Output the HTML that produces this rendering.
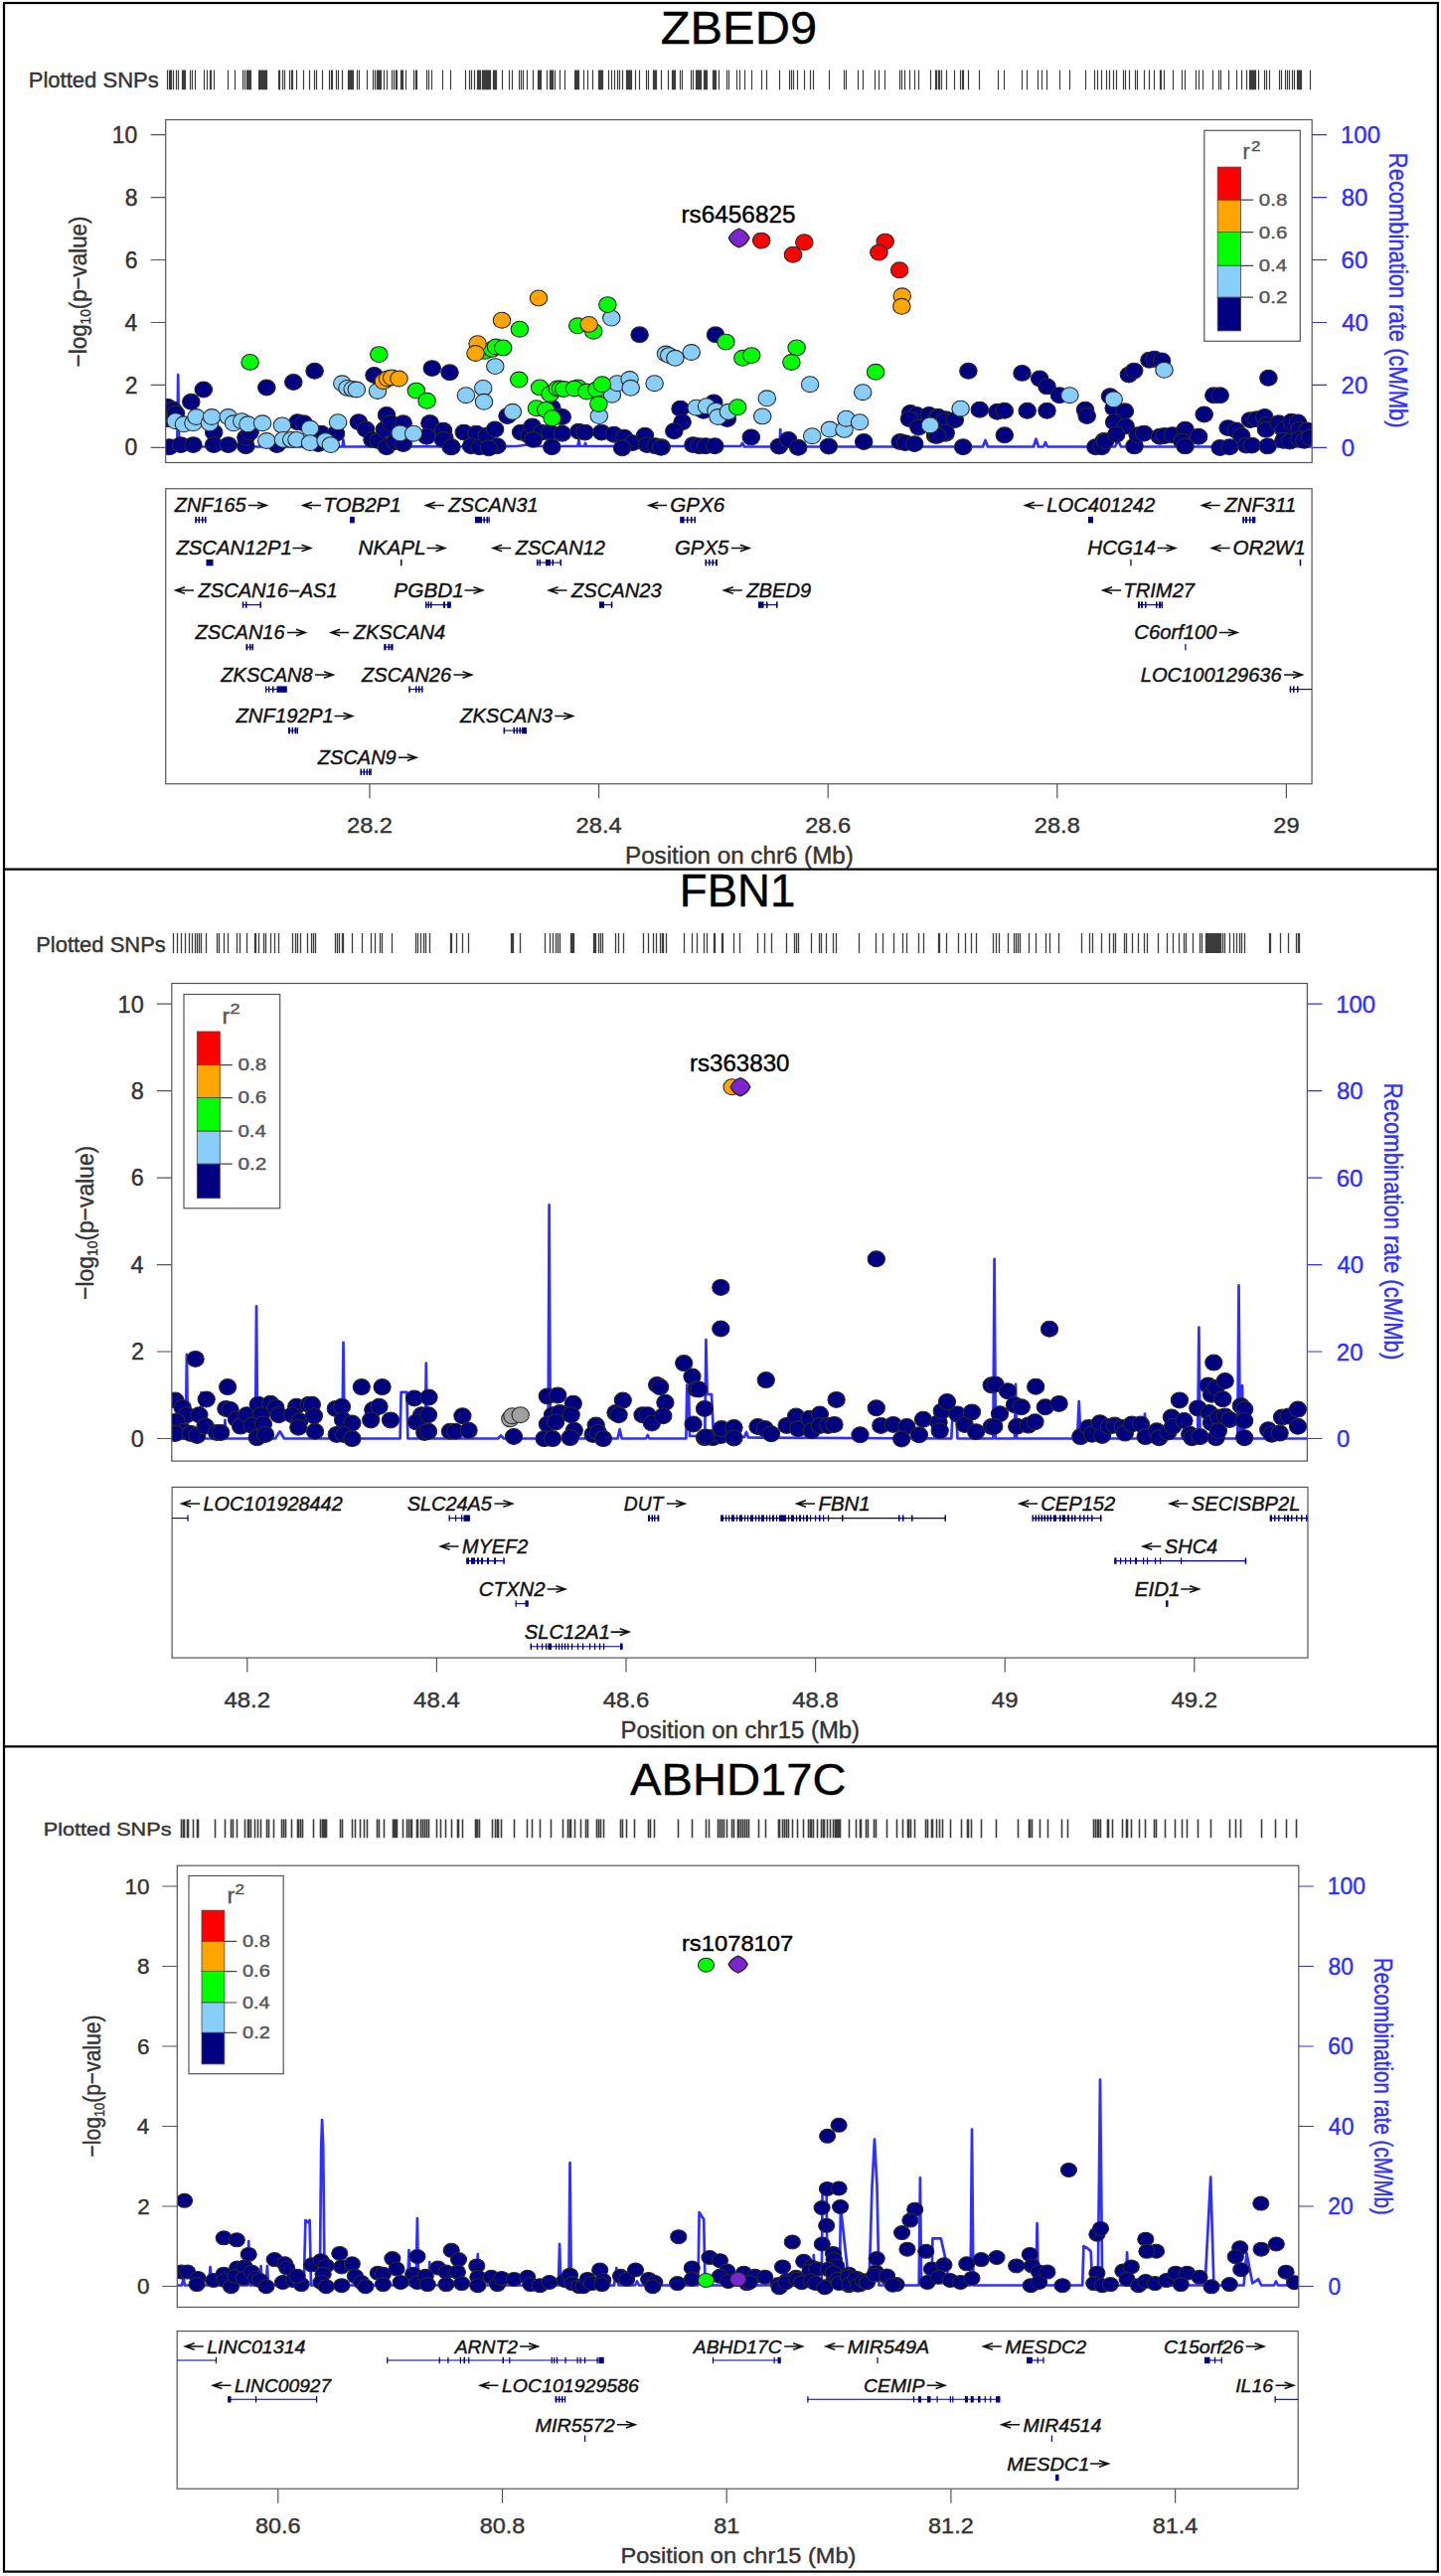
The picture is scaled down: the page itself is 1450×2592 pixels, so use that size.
<!DOCTYPE html>
<html><head><meta charset="utf-8"><title>LocusZoom plots</title>
<style>html,body{margin:0;padding:0;background:#fff;} body{width:1450px;height:2592px;overflow:hidden;} svg{display:block;}</style>
</head><body>
<svg width="1450" height="2592" viewBox="0 0 1450 2592" font-family="'Liberation Sans', Arial, sans-serif"><text x="664.70" y="43.75" font-size="46.90" textLength="157.41" lengthAdjust="spacingAndGlyphs" fill="#000" stroke="#000" stroke-width="0.4" style="" >ZBED9</text>
<text x="28.69" y="88.00" font-size="21.80" textLength="131.10" lengthAdjust="spacingAndGlyphs" fill="#333333" stroke="#333333" stroke-width="0.4" style="" >Plotted SNPs</text>
<path d="M168.5 70.6V90.3M170.5 70.6V90.3M171.5 70.6V90.3M172.5 70.6V90.3M174.5 70.6V90.3M177.5 70.6V90.3M179.5 70.6V90.3M183.5 70.6V90.3M184.5 70.6V90.3M186.5 70.6V90.3M191.5 70.6V90.3M193.5 70.6V90.3M196.5 70.6V90.3M205.5 70.6V90.3M208.5 70.6V90.3M211.5 70.6V90.3M212.5 70.6V90.3M215.5 70.6V90.3M229.5 70.6V90.3M236.5 70.6V90.3M244.5 70.6V90.3M246.5 70.6V90.3M248.5 70.6V90.3M250.5 70.6V90.3M251.5 70.6V90.3M252.5 70.6V90.3M260.5 70.6V90.3M262.5 70.6V90.3M263.5 70.6V90.3M264.5 70.6V90.3M266.5 70.6V90.3M268.5 70.6V90.3M280.5 70.6V90.3M281.5 70.6V90.3M284.5 70.6V90.3M286.5 70.6V90.3M291.5 70.6V90.3M293.5 70.6V90.3M294.5 70.6V90.3M298.5 70.6V90.3M305.5 70.6V90.3M311.5 70.6V90.3M316.5 70.6V90.3M318.5 70.6V90.3M324.5 70.6V90.3M331.5 70.6V90.3M333.5 70.6V90.3M334.5 70.6V90.3M338.5 70.6V90.3M340.5 70.6V90.3M344.5 70.6V90.3M350.5 70.6V90.3M351.5 70.6V90.3M352.5 70.6V90.3M354.5 70.6V90.3M355.5 70.6V90.3M359.5 70.6V90.3M361.5 70.6V90.3M369.5 70.6V90.3M375.5 70.6V90.3M377.5 70.6V90.3M379.5 70.6V90.3M380.5 70.6V90.3M381.5 70.6V90.3M382.5 70.6V90.3M383.5 70.6V90.3M386.5 70.6V90.3M389.5 70.6V90.3M394.5 70.6V90.3M396.5 70.6V90.3M398.5 70.6V90.3M399.5 70.6V90.3M403.5 70.6V90.3M404.5 70.6V90.3M405.5 70.6V90.3M408.5 70.6V90.3M416.5 70.6V90.3M418.5 70.6V90.3M419.5 70.6V90.3M429.5 70.6V90.3M431.5 70.6V90.3M434.5 70.6V90.3M445.5 70.6V90.3M453.5 70.6V90.3M468.5 70.6V90.3M472.5 70.6V90.3M474.5 70.6V90.3M477.5 70.6V90.3M480.5 70.6V90.3M481.5 70.6V90.3M483.5 70.6V90.3M485.5 70.6V90.3M486.5 70.6V90.3M488.5 70.6V90.3M489.5 70.6V90.3M491.5 70.6V90.3M493.5 70.6V90.3M496.5 70.6V90.3M497.5 70.6V90.3M499.5 70.6V90.3M505.5 70.6V90.3M512.5 70.6V90.3M515.5 70.6V90.3M522.5 70.6V90.3M524.5 70.6V90.3M526.5 70.6V90.3M530.5 70.6V90.3M536.5 70.6V90.3M541.5 70.6V90.3M542.5 70.6V90.3M544.5 70.6V90.3M550.5 70.6V90.3M553.5 70.6V90.3M555.5 70.6V90.3M556.5 70.6V90.3M558.5 70.6V90.3M563.5 70.6V90.3M568.5 70.6V90.3M578.5 70.6V90.3M580.5 70.6V90.3M581.5 70.6V90.3M582.5 70.6V90.3M587.5 70.6V90.3M591.5 70.6V90.3M596.5 70.6V90.3M602.5 70.6V90.3M603.5 70.6V90.3M605.5 70.6V90.3M606.5 70.6V90.3M612.5 70.6V90.3M615.5 70.6V90.3M618.5 70.6V90.3M621.5 70.6V90.3M623.5 70.6V90.3M626.5 70.6V90.3M630.5 70.6V90.3M631.5 70.6V90.3M633.5 70.6V90.3M635.5 70.6V90.3M639.5 70.6V90.3M643.5 70.6V90.3M650.5 70.6V90.3M652.5 70.6V90.3M657.5 70.6V90.3M658.5 70.6V90.3M660.5 70.6V90.3M665.5 70.6V90.3M672.5 70.6V90.3M676.5 70.6V90.3M678.5 70.6V90.3M679.5 70.6V90.3M684.5 70.6V90.3M686.5 70.6V90.3M695.5 70.6V90.3M697.5 70.6V90.3M700.5 70.6V90.3M702.5 70.6V90.3M704.5 70.6V90.3M705.5 70.6V90.3M708.5 70.6V90.3M710.5 70.6V90.3M711.5 70.6V90.3M717.5 70.6V90.3M718.5 70.6V90.3M720.5 70.6V90.3M723.5 70.6V90.3M731.5 70.6V90.3M733.5 70.6V90.3M741.5 70.6V90.3M744.5 70.6V90.3M749.5 70.6V90.3M756.5 70.6V90.3M766.5 70.6V90.3M771.5 70.6V90.3M784.5 70.6V90.3M794.5 70.6V90.3M796.5 70.6V90.3M798.5 70.6V90.3M802.5 70.6V90.3M809.5 70.6V90.3M815.5 70.6V90.3M818.5 70.6V90.3M834.5 70.6V90.3M849.5 70.6V90.3M851.5 70.6V90.3M863.5 70.6V90.3M868.5 70.6V90.3M880.5 70.6V90.3M884.5 70.6V90.3M890.5 70.6V90.3M905.5 70.6V90.3M907.5 70.6V90.3M910.5 70.6V90.3M915.5 70.6V90.3M920.5 70.6V90.3M924.5 70.6V90.3M936.5 70.6V90.3M941.5 70.6V90.3M942.5 70.6V90.3M944.5 70.6V90.3M945.5 70.6V90.3M947.5 70.6V90.3M952.5 70.6V90.3M960.5 70.6V90.3M966.5 70.6V90.3M968.5 70.6V90.3M969.5 70.6V90.3M974.5 70.6V90.3M985.5 70.6V90.3M1004.5 70.6V90.3M1010.5 70.6V90.3M1028.5 70.6V90.3M1033.5 70.6V90.3M1044.5 70.6V90.3M1048.5 70.6V90.3M1053.5 70.6V90.3M1066.5 70.6V90.3M1076.5 70.6V90.3M1092.5 70.6V90.3M1101.5 70.6V90.3M1104.5 70.6V90.3M1108.5 70.6V90.3M1113.5 70.6V90.3M1116.5 70.6V90.3M1120.5 70.6V90.3M1123.5 70.6V90.3M1130.5 70.6V90.3M1132.5 70.6V90.3M1136.5 70.6V90.3M1142.5 70.6V90.3M1144.5 70.6V90.3M1151.5 70.6V90.3M1156.5 70.6V90.3M1161.5 70.6V90.3M1167.5 70.6V90.3M1168.5 70.6V90.3M1171.5 70.6V90.3M1180.5 70.6V90.3M1189.5 70.6V90.3M1192.5 70.6V90.3M1203.5 70.6V90.3M1206.5 70.6V90.3M1210.5 70.6V90.3M1220.5 70.6V90.3M1226.5 70.6V90.3M1228.5 70.6V90.3M1236.5 70.6V90.3M1244.5 70.6V90.3M1249.5 70.6V90.3M1254.5 70.6V90.3M1257.5 70.6V90.3M1258.5 70.6V90.3M1260.5 70.6V90.3M1262.5 70.6V90.3M1263.5 70.6V90.3M1266.5 70.6V90.3M1272.5 70.6V90.3M1274.5 70.6V90.3M1277.5 70.6V90.3M1287.5 70.6V90.3M1289.5 70.6V90.3M1293.5 70.6V90.3M1295.5 70.6V90.3M1297.5 70.6V90.3M1300.5 70.6V90.3M1302.5 70.6V90.3M1305.5 70.6V90.3M1306.5 70.6V90.3M1308.5 70.6V90.3M1309.5 70.6V90.3M1318.5 70.6V90.3M185.5 70.6V90.3M249.5 70.6V90.3M261.5 70.6V90.3M265.5 70.6V90.3M267.5 70.6V90.3M482.5 70.6V90.3M487.5 70.6V90.3M490.5 70.6V90.3M492.5 70.6V90.3M498.5 70.6V90.3M543.5 70.6V90.3M554.5 70.6V90.3M579.5 70.6V90.3M604.5 70.6V90.3M632.5 70.6V90.3M634.5 70.6V90.3M659.5 70.6V90.3M677.5 70.6V90.3M701.5 70.6V90.3M703.5 70.6V90.3M709.5 70.6V90.3M719.5 70.6V90.3M1259.5 70.6V90.3M1261.5 70.6V90.3M1307.5 70.6V90.3M353.5 70.6V90.3" stroke="#3c3c3c" stroke-width="1.2" fill="none"/>
<clipPath id="c1"><rect x="166.7" y="120.5" width="1153.5" height="345.0"/></clipPath>
<g clip-path="url(#c1)">
<polyline points="160.0,448.5 178.3,448.8 179.2,377.1 180.2,449.5 344.6,449.5 345.4,442.5 346.4,449.5 520.0,449.0 530.0,447.5 540.0,449.0 581.5,449.0 582.5,442.5 583.5,449.0 588.0,449.0 589.0,446.0 590.0,449.0 745.0,449.0 747.0,446.0 749.0,449.5 784.6,449.5 785.2,432.0 785.8,449.5 788.0,449.5 989.0,449.5 991.5,443.0 994.0,449.5 1040.0,449.5 1042.5,441.7 1045.0,449.5 1050.0,449.5 1052.0,445.0 1054.0,449.5 1122.0,449.5 1125.0,443.0 1128.0,449.5 1330.0,449.5" fill="none" stroke="#2f2fff" stroke-width="2.7" stroke-linejoin="round"/>
<g stroke="#2a2a2a" stroke-width="1.1"><ellipse cx="168.3" cy="409.1" rx="8.75" ry="7.9" fill="#000080"/><ellipse cx="170.4" cy="413.3" rx="8.75" ry="7.9" fill="#000080"/><ellipse cx="172.5" cy="417.4" rx="8.75" ry="7.9" fill="#000080"/><ellipse cx="169.4" cy="421.6" rx="8.75" ry="7.9" fill="#000080"/><ellipse cx="174.0" cy="412.0" rx="8.75" ry="7.9" fill="#000080"/><ellipse cx="177.0" cy="416.0" rx="8.75" ry="7.9" fill="#000080"/><ellipse cx="215.2" cy="435.1" rx="8.75" ry="7.9" fill="#000080"/><ellipse cx="170.4" cy="449.7" rx="8.75" ry="7.9" fill="#000080"/><ellipse cx="181.9" cy="447.6" rx="8.75" ry="7.9" fill="#000080"/><ellipse cx="194.4" cy="447.6" rx="8.75" ry="7.9" fill="#000080"/><ellipse cx="215.2" cy="447.6" rx="8.75" ry="7.9" fill="#000080"/><ellipse cx="229.7" cy="447.6" rx="8.75" ry="7.9" fill="#000080"/><ellipse cx="247.4" cy="448.7" rx="8.75" ry="7.9" fill="#000080"/><ellipse cx="247.4" cy="440.3" rx="8.75" ry="7.9" fill="#000080"/><ellipse cx="251.6" cy="435.1" rx="8.75" ry="7.9" fill="#000080"/><ellipse cx="278.7" cy="447.6" rx="8.75" ry="7.9" fill="#000080"/><ellipse cx="299.5" cy="424.7" rx="8.75" ry="7.9" fill="#000080"/><ellipse cx="305.7" cy="425.8" rx="8.75" ry="7.9" fill="#000080"/><ellipse cx="323.4" cy="436.2" rx="8.75" ry="7.9" fill="#000080"/><ellipse cx="338.0" cy="436.2" rx="8.75" ry="7.9" fill="#000080"/><ellipse cx="320.3" cy="446.6" rx="8.75" ry="7.9" fill="#000080"/><ellipse cx="360.9" cy="424.7" rx="8.75" ry="7.9" fill="#000080"/><ellipse cx="368.2" cy="432.0" rx="8.75" ry="7.9" fill="#000080"/><ellipse cx="374.5" cy="442.4" rx="8.75" ry="7.9" fill="#000080"/><ellipse cx="380.7" cy="443.5" rx="8.75" ry="7.9" fill="#000080"/><ellipse cx="389.0" cy="417.4" rx="8.75" ry="7.9" fill="#000080"/><ellipse cx="386.9" cy="432.0" rx="8.75" ry="7.9" fill="#000080"/><ellipse cx="393.2" cy="425.8" rx="8.75" ry="7.9" fill="#000080"/><ellipse cx="405.7" cy="425.8" rx="8.75" ry="7.9" fill="#000080"/><ellipse cx="389.0" cy="449.7" rx="8.75" ry="7.9" fill="#000080"/><ellipse cx="397.4" cy="444.5" rx="8.75" ry="7.9" fill="#000080"/><ellipse cx="405.7" cy="446.6" rx="8.75" ry="7.9" fill="#000080"/><ellipse cx="432.7" cy="425.8" rx="8.75" ry="7.9" fill="#000080"/><ellipse cx="445.2" cy="434.1" rx="8.75" ry="7.9" fill="#000080"/><ellipse cx="447.3" cy="440.3" rx="8.75" ry="7.9" fill="#000080"/><ellipse cx="453.6" cy="449.7" rx="8.75" ry="7.9" fill="#000080"/><ellipse cx="204.8" cy="392.0" rx="8.75" ry="7.9" fill="#000080"/><ellipse cx="192.3" cy="404.3" rx="8.75" ry="7.9" fill="#000080"/><ellipse cx="268.3" cy="390.0" rx="8.75" ry="7.9" fill="#000080"/><ellipse cx="295.3" cy="384.5" rx="8.75" ry="7.9" fill="#000080"/><ellipse cx="316.6" cy="373.3" rx="8.75" ry="7.9" fill="#000080"/><ellipse cx="376.5" cy="377.5" rx="8.75" ry="7.9" fill="#000080"/><ellipse cx="434.8" cy="370.6" rx="8.75" ry="7.9" fill="#000080"/><ellipse cx="452.5" cy="374.8" rx="8.75" ry="7.9" fill="#000080"/><ellipse cx="432.5" cy="425.8" rx="8.75" ry="7.9" fill="#000080"/><ellipse cx="429.4" cy="439.3" rx="8.75" ry="7.9" fill="#000080"/><ellipse cx="446.0" cy="433.1" rx="8.75" ry="7.9" fill="#000080"/><ellipse cx="446.0" cy="442.4" rx="8.75" ry="7.9" fill="#000080"/><ellipse cx="454.4" cy="449.7" rx="8.75" ry="7.9" fill="#000080"/><ellipse cx="466.8" cy="435.1" rx="8.75" ry="7.9" fill="#000080"/><ellipse cx="479.3" cy="436.2" rx="8.75" ry="7.9" fill="#000080"/><ellipse cx="474.1" cy="448.7" rx="8.75" ry="7.9" fill="#000080"/><ellipse cx="482.5" cy="449.7" rx="8.75" ry="7.9" fill="#000080"/><ellipse cx="489.7" cy="438.3" rx="8.75" ry="7.9" fill="#000080"/><ellipse cx="498.1" cy="432.0" rx="8.75" ry="7.9" fill="#000080"/><ellipse cx="500.2" cy="448.7" rx="8.75" ry="7.9" fill="#000080"/><ellipse cx="491.8" cy="450.8" rx="8.75" ry="7.9" fill="#000080"/><ellipse cx="510.6" cy="418.5" rx="8.75" ry="7.9" fill="#000080"/><ellipse cx="555.3" cy="410.2" rx="8.75" ry="7.9" fill="#000080"/><ellipse cx="562.8" cy="419.0" rx="8.75" ry="7.9" fill="#000080"/><ellipse cx="565.7" cy="419.5" rx="8.75" ry="7.9" fill="#000080"/><ellipse cx="643.6" cy="336.8" rx="8.75" ry="7.9" fill="#000080"/><ellipse cx="524.1" cy="435.1" rx="8.75" ry="7.9" fill="#000080"/><ellipse cx="532.4" cy="438.3" rx="8.75" ry="7.9" fill="#000080"/><ellipse cx="535.6" cy="428.9" rx="8.75" ry="7.9" fill="#000080"/><ellipse cx="544.9" cy="435.1" rx="8.75" ry="7.9" fill="#000080"/><ellipse cx="553.3" cy="435.1" rx="8.75" ry="7.9" fill="#000080"/><ellipse cx="565.7" cy="436.2" rx="8.75" ry="7.9" fill="#000080"/><ellipse cx="555.3" cy="449.7" rx="8.75" ry="7.9" fill="#000080"/><ellipse cx="536.6" cy="442.4" rx="8.75" ry="7.9" fill="#000080"/><ellipse cx="582.4" cy="434.1" rx="8.75" ry="7.9" fill="#000080"/><ellipse cx="588.6" cy="435.1" rx="8.75" ry="7.9" fill="#000080"/><ellipse cx="605.3" cy="435.1" rx="8.75" ry="7.9" fill="#000080"/><ellipse cx="617.8" cy="437.2" rx="8.75" ry="7.9" fill="#000080"/><ellipse cx="628.2" cy="440.3" rx="8.75" ry="7.9" fill="#000080"/><ellipse cx="636.5" cy="445.6" rx="8.75" ry="7.9" fill="#000080"/><ellipse cx="626.1" cy="450.8" rx="8.75" ry="7.9" fill="#000080"/><ellipse cx="649.0" cy="438.3" rx="8.75" ry="7.9" fill="#000080"/><ellipse cx="651.1" cy="447.6" rx="8.75" ry="7.9" fill="#000080"/><ellipse cx="659.4" cy="448.7" rx="8.75" ry="7.9" fill="#000080"/><ellipse cx="665.7" cy="449.7" rx="8.75" ry="7.9" fill="#000080"/><ellipse cx="720.0" cy="336.8" rx="8.75" ry="7.9" fill="#000080"/><ellipse cx="684.6" cy="411.2" rx="8.75" ry="7.9" fill="#000080"/><ellipse cx="686.6" cy="424.7" rx="8.75" ry="7.9" fill="#000080"/><ellipse cx="678.3" cy="433.7" rx="8.75" ry="7.9" fill="#000080"/><ellipse cx="665.2" cy="450.3" rx="8.75" ry="7.9" fill="#000080"/><ellipse cx="718.3" cy="405.0" rx="8.75" ry="7.9" fill="#000080"/><ellipse cx="707.9" cy="413.3" rx="8.75" ry="7.9" fill="#000080"/><ellipse cx="731.8" cy="421.6" rx="8.75" ry="7.9" fill="#000080"/><ellipse cx="755.8" cy="439.9" rx="8.75" ry="7.9" fill="#000080"/><ellipse cx="697.5" cy="447.6" rx="8.75" ry="7.9" fill="#000080"/><ellipse cx="703.7" cy="448.7" rx="8.75" ry="7.9" fill="#000080"/><ellipse cx="710.0" cy="448.7" rx="8.75" ry="7.9" fill="#000080"/><ellipse cx="719.3" cy="448.7" rx="8.75" ry="7.9" fill="#000080"/><ellipse cx="783.9" cy="449.1" rx="8.75" ry="7.9" fill="#000080"/><ellipse cx="793.2" cy="442.4" rx="8.75" ry="7.9" fill="#000080"/><ellipse cx="803.2" cy="450.3" rx="8.75" ry="7.9" fill="#000080"/><ellipse cx="833.8" cy="449.1" rx="8.75" ry="7.9" fill="#000080"/><ellipse cx="869.2" cy="444.5" rx="8.75" ry="7.9" fill="#000080"/><ellipse cx="905.7" cy="444.5" rx="8.75" ry="7.9" fill="#000080"/><ellipse cx="910.9" cy="445.6" rx="8.75" ry="7.9" fill="#000080"/><ellipse cx="920.2" cy="446.6" rx="8.75" ry="7.9" fill="#000080"/><ellipse cx="916.1" cy="415.4" rx="8.75" ry="7.9" fill="#000080"/><ellipse cx="922.3" cy="417.4" rx="8.75" ry="7.9" fill="#000080"/><ellipse cx="915.0" cy="421.6" rx="8.75" ry="7.9" fill="#000080"/><ellipse cx="924.4" cy="430.0" rx="8.75" ry="7.9" fill="#000080"/><ellipse cx="934.8" cy="417.4" rx="8.75" ry="7.9" fill="#000080"/><ellipse cx="943.2" cy="419.5" rx="8.75" ry="7.9" fill="#000080"/><ellipse cx="951.5" cy="421.6" rx="8.75" ry="7.9" fill="#000080"/><ellipse cx="941.1" cy="438.3" rx="8.75" ry="7.9" fill="#000080"/><ellipse cx="951.5" cy="436.2" rx="8.75" ry="7.9" fill="#000080"/><ellipse cx="944.2" cy="419.5" rx="8.75" ry="7.9" fill="#000080"/><ellipse cx="950.4" cy="423.7" rx="8.75" ry="7.9" fill="#000080"/><ellipse cx="960.8" cy="422.6" rx="8.75" ry="7.9" fill="#000080"/><ellipse cx="951.5" cy="435.1" rx="8.75" ry="7.9" fill="#000080"/><ellipse cx="943.1" cy="438.3" rx="8.75" ry="7.9" fill="#000080"/><ellipse cx="969.1" cy="449.7" rx="8.75" ry="7.9" fill="#000080"/><ellipse cx="974.4" cy="373.3" rx="8.75" ry="7.9" fill="#000080"/><ellipse cx="985.8" cy="412.2" rx="8.75" ry="7.9" fill="#000080"/><ellipse cx="1003.5" cy="414.3" rx="8.75" ry="7.9" fill="#000080"/><ellipse cx="1010.8" cy="413.3" rx="8.75" ry="7.9" fill="#000080"/><ellipse cx="1033.7" cy="413.3" rx="8.75" ry="7.9" fill="#000080"/><ellipse cx="1053.5" cy="413.3" rx="8.75" ry="7.9" fill="#000080"/><ellipse cx="1010.8" cy="437.8" rx="8.75" ry="7.9" fill="#000080"/><ellipse cx="1028.5" cy="375.4" rx="8.75" ry="7.9" fill="#000080"/><ellipse cx="1046.2" cy="381.0" rx="8.75" ry="7.9" fill="#000080"/><ellipse cx="1053.5" cy="388.9" rx="8.75" ry="7.9" fill="#000080"/><ellipse cx="1066.0" cy="397.7" rx="8.75" ry="7.9" fill="#000080"/><ellipse cx="1092.0" cy="412.2" rx="8.75" ry="7.9" fill="#000080"/><ellipse cx="1093.7" cy="418.5" rx="8.75" ry="7.9" fill="#000080"/><ellipse cx="1102.4" cy="449.7" rx="8.75" ry="7.9" fill="#000080"/><ellipse cx="1110.7" cy="443.5" rx="8.75" ry="7.9" fill="#000080"/><ellipse cx="1108.6" cy="449.7" rx="8.75" ry="7.9" fill="#000080"/><ellipse cx="1112.0" cy="444.1" rx="8.75" ry="7.9" fill="#000080"/><ellipse cx="1117.0" cy="398.7" rx="8.75" ry="7.9" fill="#000080"/><ellipse cx="1120.7" cy="410.6" rx="8.75" ry="7.9" fill="#000080"/><ellipse cx="1131.9" cy="413.8" rx="8.75" ry="7.9" fill="#000080"/><ellipse cx="1121.1" cy="424.7" rx="8.75" ry="7.9" fill="#000080"/><ellipse cx="1132.6" cy="428.9" rx="8.75" ry="7.9" fill="#000080"/><ellipse cx="1123.2" cy="437.2" rx="8.75" ry="7.9" fill="#000080"/><ellipse cx="1135.9" cy="377.1" rx="8.75" ry="7.9" fill="#000080"/><ellipse cx="1141.2" cy="373.1" rx="8.75" ry="7.9" fill="#000080"/><ellipse cx="1156.5" cy="362.3" rx="8.75" ry="7.9" fill="#000080"/><ellipse cx="1161.7" cy="361.2" rx="8.75" ry="7.9" fill="#000080"/><ellipse cx="1169.0" cy="362.9" rx="8.75" ry="7.9" fill="#000080"/><ellipse cx="1141.5" cy="448.9" rx="8.75" ry="7.9" fill="#000080"/><ellipse cx="1144.7" cy="437.7" rx="8.75" ry="7.9" fill="#000080"/><ellipse cx="1151.1" cy="436.1" rx="8.75" ry="7.9" fill="#000080"/><ellipse cx="1167.0" cy="439.3" rx="8.75" ry="7.9" fill="#000080"/><ellipse cx="1171.8" cy="438.5" rx="8.75" ry="7.9" fill="#000080"/><ellipse cx="1179.8" cy="437.7" rx="8.75" ry="7.9" fill="#000080"/><ellipse cx="1192.6" cy="432.2" rx="8.75" ry="7.9" fill="#000080"/><ellipse cx="1189.4" cy="444.1" rx="8.75" ry="7.9" fill="#000080"/><ellipse cx="1192.6" cy="448.9" rx="8.75" ry="7.9" fill="#000080"/><ellipse cx="1206.1" cy="439.3" rx="8.75" ry="7.9" fill="#000080"/><ellipse cx="1211.7" cy="417.0" rx="8.75" ry="7.9" fill="#000080"/><ellipse cx="1221.3" cy="397.8" rx="8.75" ry="7.9" fill="#000080"/><ellipse cx="1227.7" cy="397.8" rx="8.75" ry="7.9" fill="#000080"/><ellipse cx="1276.4" cy="380.3" rx="8.75" ry="7.9" fill="#000080"/><ellipse cx="1235.7" cy="430.6" rx="8.75" ry="7.9" fill="#000080"/><ellipse cx="1243.7" cy="433.0" rx="8.75" ry="7.9" fill="#000080"/><ellipse cx="1249.2" cy="438.5" rx="8.75" ry="7.9" fill="#000080"/><ellipse cx="1254.0" cy="448.1" rx="8.75" ry="7.9" fill="#000080"/><ellipse cx="1259.6" cy="448.1" rx="8.75" ry="7.9" fill="#000080"/><ellipse cx="1227.7" cy="450.5" rx="8.75" ry="7.9" fill="#000080"/><ellipse cx="1237.3" cy="449.7" rx="8.75" ry="7.9" fill="#000080"/><ellipse cx="1258.0" cy="422.6" rx="8.75" ry="7.9" fill="#000080"/><ellipse cx="1264.4" cy="421.8" rx="8.75" ry="7.9" fill="#000080"/><ellipse cx="1272.4" cy="419.4" rx="8.75" ry="7.9" fill="#000080"/><ellipse cx="1274.8" cy="427.4" rx="8.75" ry="7.9" fill="#000080"/><ellipse cx="1274.0" cy="432.2" rx="8.75" ry="7.9" fill="#000080"/><ellipse cx="1275.6" cy="448.9" rx="8.75" ry="7.9" fill="#000080"/><ellipse cx="1286.7" cy="425.8" rx="8.75" ry="7.9" fill="#000080"/><ellipse cx="1291.5" cy="432.2" rx="8.75" ry="7.9" fill="#000080"/><ellipse cx="1299.5" cy="424.2" rx="8.75" ry="7.9" fill="#000080"/><ellipse cx="1305.9" cy="425.0" rx="8.75" ry="7.9" fill="#000080"/><ellipse cx="1307.5" cy="432.2" rx="8.75" ry="7.9" fill="#000080"/><ellipse cx="1315.5" cy="433.0" rx="8.75" ry="7.9" fill="#000080"/><ellipse cx="1291.5" cy="443.3" rx="8.75" ry="7.9" fill="#000080"/><ellipse cx="1297.9" cy="444.1" rx="8.75" ry="7.9" fill="#000080"/><ellipse cx="1307.5" cy="441.7" rx="8.75" ry="7.9" fill="#000080"/><ellipse cx="1312.3" cy="443.3" rx="8.75" ry="7.9" fill="#000080"/><ellipse cx="1318.0" cy="440.0" rx="8.75" ry="7.9" fill="#000080"/><ellipse cx="176.7" cy="423.7" rx="8.75" ry="7.9" fill="#87CEFA"/><ellipse cx="185.0" cy="426.8" rx="8.75" ry="7.9" fill="#87CEFA"/><ellipse cx="194.4" cy="425.8" rx="8.75" ry="7.9" fill="#87CEFA"/><ellipse cx="197.5" cy="419.5" rx="8.75" ry="7.9" fill="#87CEFA"/><ellipse cx="211.0" cy="425.8" rx="8.75" ry="7.9" fill="#87CEFA"/><ellipse cx="213.1" cy="419.5" rx="8.75" ry="7.9" fill="#87CEFA"/><ellipse cx="229.7" cy="419.5" rx="8.75" ry="7.9" fill="#87CEFA"/><ellipse cx="235.0" cy="425.8" rx="8.75" ry="7.9" fill="#87CEFA"/><ellipse cx="243.3" cy="423.7" rx="8.75" ry="7.9" fill="#87CEFA"/><ellipse cx="249.5" cy="426.8" rx="8.75" ry="7.9" fill="#87CEFA"/><ellipse cx="264.1" cy="425.8" rx="8.75" ry="7.9" fill="#87CEFA"/><ellipse cx="268.3" cy="443.5" rx="8.75" ry="7.9" fill="#87CEFA"/><ellipse cx="283.9" cy="427.9" rx="8.75" ry="7.9" fill="#87CEFA"/><ellipse cx="284.9" cy="442.4" rx="8.75" ry="7.9" fill="#87CEFA"/><ellipse cx="293.2" cy="442.4" rx="8.75" ry="7.9" fill="#87CEFA"/><ellipse cx="298.5" cy="442.4" rx="8.75" ry="7.9" fill="#87CEFA"/><ellipse cx="312.0" cy="431.0" rx="8.75" ry="7.9" fill="#87CEFA"/><ellipse cx="312.0" cy="445.6" rx="8.75" ry="7.9" fill="#87CEFA"/><ellipse cx="327.6" cy="443.5" rx="8.75" ry="7.9" fill="#87CEFA"/><ellipse cx="332.8" cy="447.6" rx="8.75" ry="7.9" fill="#87CEFA"/><ellipse cx="340.1" cy="424.7" rx="8.75" ry="7.9" fill="#87CEFA"/><ellipse cx="402.6" cy="435.8" rx="8.75" ry="7.9" fill="#87CEFA"/><ellipse cx="416.1" cy="436.2" rx="8.75" ry="7.9" fill="#87CEFA"/><ellipse cx="344.3" cy="385.8" rx="8.75" ry="7.9" fill="#87CEFA"/><ellipse cx="349.5" cy="390.4" rx="8.75" ry="7.9" fill="#87CEFA"/><ellipse cx="354.7" cy="391.4" rx="8.75" ry="7.9" fill="#87CEFA"/><ellipse cx="358.8" cy="392.0" rx="8.75" ry="7.9" fill="#87CEFA"/><ellipse cx="380.0" cy="393.5" rx="8.75" ry="7.9" fill="#87CEFA"/><ellipse cx="515.8" cy="414.3" rx="8.75" ry="7.9" fill="#87CEFA"/><ellipse cx="468.9" cy="397.7" rx="8.75" ry="7.9" fill="#87CEFA"/><ellipse cx="486.2" cy="390.4" rx="8.75" ry="7.9" fill="#87CEFA"/><ellipse cx="487.0" cy="404.3" rx="8.75" ry="7.9" fill="#87CEFA"/><ellipse cx="498.3" cy="368.6" rx="8.75" ry="7.9" fill="#87CEFA"/><ellipse cx="602.8" cy="418.6" rx="8.75" ry="7.9" fill="#87CEFA"/><ellipse cx="615.9" cy="397.2" rx="8.75" ry="7.9" fill="#87CEFA"/><ellipse cx="621.1" cy="385.7" rx="8.75" ry="7.9" fill="#87CEFA"/><ellipse cx="633.6" cy="381.5" rx="8.75" ry="7.9" fill="#87CEFA"/><ellipse cx="634.7" cy="390.3" rx="8.75" ry="7.9" fill="#87CEFA"/><ellipse cx="658.6" cy="385.7" rx="8.75" ry="7.9" fill="#87CEFA"/><ellipse cx="615.3" cy="320.1" rx="8.75" ry="7.9" fill="#87CEFA"/><ellipse cx="670.0" cy="356.0" rx="8.75" ry="7.9" fill="#87CEFA"/><ellipse cx="673.2" cy="357.6" rx="8.75" ry="7.9" fill="#87CEFA"/><ellipse cx="679.4" cy="360.3" rx="8.75" ry="7.9" fill="#87CEFA"/><ellipse cx="695.7" cy="354.5" rx="8.75" ry="7.9" fill="#87CEFA"/><ellipse cx="815.1" cy="386.7" rx="8.75" ry="7.9" fill="#87CEFA"/><ellipse cx="868.2" cy="394.7" rx="8.75" ry="7.9" fill="#87CEFA"/><ellipse cx="771.8" cy="400.8" rx="8.75" ry="7.9" fill="#87CEFA"/><ellipse cx="767.2" cy="418.9" rx="8.75" ry="7.9" fill="#87CEFA"/><ellipse cx="700.6" cy="410.2" rx="8.75" ry="7.9" fill="#87CEFA"/><ellipse cx="711.0" cy="408.7" rx="8.75" ry="7.9" fill="#87CEFA"/><ellipse cx="720.4" cy="413.3" rx="8.75" ry="7.9" fill="#87CEFA"/><ellipse cx="722.5" cy="419.5" rx="8.75" ry="7.9" fill="#87CEFA"/><ellipse cx="732.9" cy="414.3" rx="8.75" ry="7.9" fill="#87CEFA"/><ellipse cx="817.2" cy="438.7" rx="8.75" ry="7.9" fill="#87CEFA"/><ellipse cx="834.9" cy="432.0" rx="8.75" ry="7.9" fill="#87CEFA"/><ellipse cx="849.5" cy="432.4" rx="8.75" ry="7.9" fill="#87CEFA"/><ellipse cx="851.5" cy="421.2" rx="8.75" ry="7.9" fill="#87CEFA"/><ellipse cx="865.1" cy="424.7" rx="8.75" ry="7.9" fill="#87CEFA"/><ellipse cx="935.9" cy="427.9" rx="8.75" ry="7.9" fill="#87CEFA"/><ellipse cx="966.6" cy="411.2" rx="8.75" ry="7.9" fill="#87CEFA"/><ellipse cx="1076.4" cy="397.7" rx="8.75" ry="7.9" fill="#87CEFA"/><ellipse cx="1120.7" cy="401.8" rx="8.75" ry="7.9" fill="#87CEFA"/><ellipse cx="1171.5" cy="372.3" rx="8.75" ry="7.9" fill="#87CEFA"/><ellipse cx="251.6" cy="364.4" rx="8.75" ry="7.9" fill="#00FF00"/><ellipse cx="381.3" cy="356.6" rx="8.75" ry="7.9" fill="#00FF00"/><ellipse cx="418.8" cy="393.1" rx="8.75" ry="7.9" fill="#00FF00"/><ellipse cx="429.6" cy="403.3" rx="8.75" ry="7.9" fill="#00FF00"/><ellipse cx="522.9" cy="331.2" rx="8.75" ry="7.9" fill="#00FF00"/><ellipse cx="488.0" cy="353.4" rx="8.75" ry="7.9" fill="#00FF00"/><ellipse cx="495.2" cy="351.4" rx="8.75" ry="7.9" fill="#00FF00"/><ellipse cx="499.0" cy="349.0" rx="8.75" ry="7.9" fill="#00FF00"/><ellipse cx="506.2" cy="349.9" rx="8.75" ry="7.9" fill="#00FF00"/><ellipse cx="522.2" cy="382.0" rx="8.75" ry="7.9" fill="#00FF00"/><ellipse cx="543.1" cy="389.9" rx="8.75" ry="7.9" fill="#00FF00"/><ellipse cx="553.5" cy="396.5" rx="8.75" ry="7.9" fill="#00FF00"/><ellipse cx="560.8" cy="390.9" rx="8.75" ry="7.9" fill="#00FF00"/><ellipse cx="564.0" cy="391.0" rx="8.75" ry="7.9" fill="#00FF00"/><ellipse cx="567.4" cy="391.5" rx="8.75" ry="7.9" fill="#00FF00"/><ellipse cx="581.6" cy="389.9" rx="8.75" ry="7.9" fill="#00FF00"/><ellipse cx="578.0" cy="391.0" rx="8.75" ry="7.9" fill="#00FF00"/><ellipse cx="590.3" cy="394.0" rx="8.75" ry="7.9" fill="#00FF00"/><ellipse cx="600.3" cy="392.0" rx="8.75" ry="7.9" fill="#00FF00"/><ellipse cx="605.9" cy="386.8" rx="8.75" ry="7.9" fill="#00FF00"/><ellipse cx="602.4" cy="406.5" rx="8.75" ry="7.9" fill="#00FF00"/><ellipse cx="539.9" cy="410.7" rx="8.75" ry="7.9" fill="#00FF00"/><ellipse cx="549.3" cy="412.4" rx="8.75" ry="7.9" fill="#00FF00"/><ellipse cx="555.6" cy="420.7" rx="8.75" ry="7.9" fill="#00FF00"/><ellipse cx="581.2" cy="327.8" rx="8.75" ry="7.9" fill="#00FF00"/><ellipse cx="597.2" cy="333.2" rx="8.75" ry="7.9" fill="#00FF00"/><ellipse cx="611.4" cy="306.6" rx="8.75" ry="7.9" fill="#00FF00"/><ellipse cx="730.4" cy="344.1" rx="8.75" ry="7.9" fill="#00FF00"/><ellipse cx="747.4" cy="360.3" rx="8.75" ry="7.9" fill="#00FF00"/><ellipse cx="756.2" cy="357.6" rx="8.75" ry="7.9" fill="#00FF00"/><ellipse cx="801.6" cy="349.9" rx="8.75" ry="7.9" fill="#00FF00"/><ellipse cx="796.4" cy="364.5" rx="8.75" ry="7.9" fill="#00FF00"/><ellipse cx="881.1" cy="374.3" rx="8.75" ry="7.9" fill="#00FF00"/><ellipse cx="742.2" cy="409.7" rx="8.75" ry="7.9" fill="#00FF00"/><ellipse cx="385.9" cy="383.7" rx="8.75" ry="7.9" fill="#FFA500"/><ellipse cx="390.0" cy="381.0" rx="8.75" ry="7.9" fill="#FFA500"/><ellipse cx="394.2" cy="380.0" rx="8.75" ry="7.9" fill="#FFA500"/><ellipse cx="401.5" cy="381.0" rx="8.75" ry="7.9" fill="#FFA500"/><ellipse cx="542.0" cy="299.9" rx="8.75" ry="7.9" fill="#FFA500"/><ellipse cx="505.0" cy="322.2" rx="8.75" ry="7.9" fill="#FFA500"/><ellipse cx="480.6" cy="345.7" rx="8.75" ry="7.9" fill="#FFA500"/><ellipse cx="478.5" cy="355.5" rx="8.75" ry="7.9" fill="#FFA500"/><ellipse cx="592.6" cy="326.4" rx="8.75" ry="7.9" fill="#FFA500"/><ellipse cx="907.8" cy="297.8" rx="8.75" ry="7.9" fill="#FFA500"/><ellipse cx="907.3" cy="308.3" rx="8.75" ry="7.9" fill="#FFA500"/><ellipse cx="766.2" cy="242.1" rx="8.75" ry="7.9" fill="#FF0000"/><ellipse cx="809.3" cy="243.7" rx="8.75" ry="7.9" fill="#FF0000"/><ellipse cx="798.0" cy="256.2" rx="8.75" ry="7.9" fill="#FF0000"/><ellipse cx="890.7" cy="243.1" rx="8.75" ry="7.9" fill="#FF0000"/><ellipse cx="884.4" cy="254.1" rx="8.75" ry="7.9" fill="#FF0000"/><ellipse cx="905.1" cy="271.8" rx="8.75" ry="7.9" fill="#FF0000"/></g>
<path d="M733.30 239.40Q736.21 232.63 743.70 230.00Q751.19 232.63 754.10 239.40Q751.19 246.17 743.70 248.80Q736.21 246.17 733.30 239.40Z" fill="#7B24CF" stroke="#222" stroke-width="1.3"/>
</g>
<text x="685.48" y="223.70" font-size="23.20" textLength="115.04" lengthAdjust="spacingAndGlyphs" fill="#000" stroke="#000" stroke-width="0.4" style="" >rs6456825</text>
<rect x="166.7" y="120.5" width="1153.5" height="345.0" fill="none" stroke="#555" stroke-width="1.2"/>
<text x="125.61" y="458.47" font-size="23.00" textLength="12.79" lengthAdjust="spacingAndGlyphs" fill="#333333" stroke="#333333" stroke-width="0.4">0</text>
<text x="125.87" y="395.55" font-size="23.00" textLength="12.79" lengthAdjust="spacingAndGlyphs" fill="#333333" stroke="#333333" stroke-width="0.4">2</text>
<text x="125.38" y="332.63" font-size="23.00" textLength="12.79" lengthAdjust="spacingAndGlyphs" fill="#333333" stroke="#333333" stroke-width="0.4">4</text>
<text x="125.72" y="269.71" font-size="23.00" textLength="12.79" lengthAdjust="spacingAndGlyphs" fill="#333333" stroke="#333333" stroke-width="0.4">6</text>
<text x="125.71" y="206.78" font-size="23.00" textLength="12.79" lengthAdjust="spacingAndGlyphs" fill="#333333" stroke="#333333" stroke-width="0.4">8</text>
<text x="112.82" y="143.86" font-size="23.00" textLength="25.58" lengthAdjust="spacingAndGlyphs" fill="#333333" stroke="#333333" stroke-width="0.4">10</text>
<path d="M151.7 450.3H166.7M151.7 387.4H166.7M151.7 324.5H166.7M151.7 261.5H166.7M151.7 198.6H166.7M151.7 135.7H166.7" stroke="#555" stroke-width="1.2"/>
<text x="1349.86" y="458.82" font-size="24.00" textLength="13.35" lengthAdjust="spacingAndGlyphs" fill="#2f2fff" stroke="#2f2fff" stroke-width="0.4">0</text>
<text x="1349.59" y="395.90" font-size="24.00" textLength="26.70" lengthAdjust="spacingAndGlyphs" fill="#2f2fff" stroke="#2f2fff" stroke-width="0.4">20</text>
<text x="1350.25" y="332.98" font-size="24.00" textLength="26.70" lengthAdjust="spacingAndGlyphs" fill="#2f2fff" stroke="#2f2fff" stroke-width="0.4">40</text>
<text x="1349.58" y="270.06" font-size="24.00" textLength="26.70" lengthAdjust="spacingAndGlyphs" fill="#2f2fff" stroke="#2f2fff" stroke-width="0.4">60</text>
<text x="1349.76" y="207.14" font-size="24.00" textLength="26.70" lengthAdjust="spacingAndGlyphs" fill="#2f2fff" stroke="#2f2fff" stroke-width="0.4">80</text>
<text x="1348.97" y="144.22" font-size="24.00" textLength="40.04" lengthAdjust="spacingAndGlyphs" fill="#2f2fff" stroke="#2f2fff" stroke-width="0.4">100</text>
<path d="M1320.2 450.3H1335.2M1320.2 387.4H1335.2M1320.2 324.5H1335.2M1320.2 261.5H1335.2M1320.2 198.6H1335.2M1320.2 135.7H1335.2" stroke="#2f2fff" stroke-width="1.2"/>
<text transform="translate(87.1,293.4) rotate(-90)" font-size="24.8" fill="#333333" stroke="#333333" stroke-width="0.4" text-anchor="middle" textLength="151.7" lengthAdjust="spacingAndGlyphs">&#8722;log<tspan font-size="15.1" dy="4.2">10</tspan><tspan dy="-4.2">(p&#8722;value)</tspan></text>
<text transform="translate(1398.0,292.2) rotate(90)" font-size="25.7" fill="#2f2fff" stroke="#2f2fff" stroke-width="0.4" text-anchor="middle" textLength="276.7" lengthAdjust="spacingAndGlyphs">Recombination rate (cM/Mb)</text>
<rect x="1211.8" y="131.3" width="96.5" height="212.0" fill="#fff" stroke="#555" stroke-width="1.2"/>
<rect x="1225.2" y="168.1" width="23.4" height="33.1" fill="#FF0000" stroke="#444" stroke-width="0.8"/>
<rect x="1225.2" y="201.2" width="23.4" height="32.4" fill="#FFA500" stroke="#444" stroke-width="0.8"/>
<rect x="1225.2" y="233.6" width="23.4" height="33.7" fill="#00FF00" stroke="#444" stroke-width="0.8"/>
<rect x="1225.2" y="267.3" width="23.4" height="31.9" fill="#87CEFA" stroke="#444" stroke-width="0.8"/>
<rect x="1225.2" y="299.2" width="23.4" height="33.7" fill="#000080" stroke="#444" stroke-width="0.8"/>
<text x="1266.80" y="207.23" font-size="17.00" textLength="28.49" lengthAdjust="spacingAndGlyphs" fill="#555" stroke="#555" stroke-width="0.4" style="" >0.8</text>
<text x="1266.80" y="239.63" font-size="17.00" textLength="28.50" lengthAdjust="spacingAndGlyphs" fill="#555" stroke="#555" stroke-width="0.4" style="" >0.6</text>
<text x="1266.81" y="273.34" font-size="17.00" textLength="28.19" lengthAdjust="spacingAndGlyphs" fill="#555" stroke="#555" stroke-width="0.4" style="" >0.4</text>
<text x="1266.80" y="305.24" font-size="17.00" textLength="28.64" lengthAdjust="spacingAndGlyphs" fill="#555" stroke="#555" stroke-width="0.4" style="" >0.2</text>
<path d="M1248.6 201.2H1261.1M1248.6 233.6H1261.1M1248.6 267.3H1261.1M1248.6 299.2H1261.1" stroke="#444" stroke-width="1.2"/>
<text x="1250.59" y="160.20" font-size="22.00" textLength="7.06" lengthAdjust="spacingAndGlyphs" fill="#555" stroke="#555" stroke-width="0.4" style="" >r</text>
<text x="1259.04" y="151.60" font-size="15.20" textLength="9.52" lengthAdjust="spacingAndGlyphs" fill="#555" stroke="#555" stroke-width="0.4" style="" >2</text>
<rect x="166.75" y="491.75" width="1153.35" height="297.0" fill="none" stroke="#555" stroke-width="1.2"/>
<text x="175.89" y="515.40" font-size="19.30" textLength="71.66" lengthAdjust="spacingAndGlyphs" fill="#111" stroke="#111" stroke-width="0.4" style="font-style:italic;" >ZNF165</text><path d="M250.0 508.5H268.2M259.0 505.2L268.2 508.5L259.0 511.8" stroke="#111" stroke-width="1.6" fill="none" stroke-linejoin="miter" stroke-miterlimit="8"/><path d="M196.3 523.1H207.5" stroke="#000080" stroke-width="1.1"/><rect x="196.3" y="519.9" width="1.7" height="6.4" fill="#000080"/><rect x="199.5" y="519.9" width="1.5" height="6.4" fill="#000080"/><rect x="203.0" y="519.9" width="1.5" height="6.4" fill="#000080"/><rect x="206.0" y="519.9" width="1.5" height="6.4" fill="#000080"/><text x="325.26" y="515.40" font-size="19.30" textLength="78.47" lengthAdjust="spacingAndGlyphs" fill="#111" stroke="#111" stroke-width="0.4" style="font-style:italic;" >TOB2P1</text><path d="M323.0 508.5H304.8M314.0 505.2L304.8 508.5L314.0 511.8" stroke="#111" stroke-width="1.6" fill="none" stroke-linejoin="miter" stroke-miterlimit="8"/><rect x="352.0" y="519.9" width="4.8" height="6.4" fill="#000080"/><text x="451.24" y="515.40" font-size="19.30" textLength="90.45" lengthAdjust="spacingAndGlyphs" fill="#111" stroke="#111" stroke-width="0.4" style="font-style:italic;" >ZSCAN31</text><path d="M446.8 508.5H428.6M437.8 505.2L428.6 508.5L437.8 511.8" stroke="#111" stroke-width="1.6" fill="none" stroke-linejoin="miter" stroke-miterlimit="8"/><path d="M478.0 523.1H492.5" stroke="#000080" stroke-width="1.1"/><rect x="478.0" y="519.9" width="7.0" height="6.4" fill="#000080"/><rect x="486.5" y="519.9" width="1.5" height="6.4" fill="#000080"/><rect x="489.5" y="519.9" width="1.5" height="6.4" fill="#000080"/><rect x="491.5" y="519.9" width="1.2" height="6.4" fill="#000080"/><text x="674.33" y="515.40" font-size="19.30" textLength="54.92" lengthAdjust="spacingAndGlyphs" fill="#111" stroke="#111" stroke-width="0.4" style="font-style:italic;" >GPX6</text><path d="M671.2 508.5H653.0M662.2 505.2L653.0 508.5L662.2 511.8" stroke="#111" stroke-width="1.6" fill="none" stroke-linejoin="miter" stroke-miterlimit="8"/><path d="M684.3 523.1H700.0" stroke="#000080" stroke-width="1.1"/><rect x="684.3" y="519.9" width="4.2" height="6.4" fill="#000080"/><rect x="691.0" y="519.9" width="1.5" height="6.4" fill="#000080"/><rect x="695.0" y="519.9" width="1.5" height="6.4" fill="#000080"/><rect x="698.5" y="519.9" width="1.5" height="6.4" fill="#000080"/><text x="1053.28" y="515.40" font-size="19.30" textLength="109.12" lengthAdjust="spacingAndGlyphs" fill="#111" stroke="#111" stroke-width="0.4" style="font-style:italic;" >LOC401242</text><path d="M1049.8 508.5H1031.6M1040.8 505.2L1031.6 508.5L1040.8 511.8" stroke="#111" stroke-width="1.6" fill="none" stroke-linejoin="miter" stroke-miterlimit="8"/><rect x="1095.0" y="519.9" width="5.0" height="6.4" fill="#000080"/><text x="1232.19" y="515.40" font-size="19.30" textLength="72.20" lengthAdjust="spacingAndGlyphs" fill="#111" stroke="#111" stroke-width="0.4" style="font-style:italic;" >ZNF311</text><path d="M1227.7 508.5H1209.5M1218.7 505.2L1209.5 508.5L1218.7 511.8" stroke="#111" stroke-width="1.6" fill="none" stroke-linejoin="miter" stroke-miterlimit="8"/><path d="M1250.3 523.1H1263.3" stroke="#000080" stroke-width="1.1"/><rect x="1250.3" y="519.9" width="1.7" height="6.4" fill="#000080"/><rect x="1253.0" y="519.9" width="2.0" height="6.4" fill="#000080"/><rect x="1257.0" y="519.9" width="1.5" height="6.4" fill="#000080"/><rect x="1260.0" y="519.9" width="3.3" height="6.4" fill="#000080"/><text x="177.40" y="558.40" font-size="19.30" textLength="116.42" lengthAdjust="spacingAndGlyphs" fill="#111" stroke="#111" stroke-width="0.4" style="font-style:italic;" >ZSCAN12P1</text><path d="M294.5 551.5H312.7M303.5 548.2L312.7 551.5L303.5 554.8" stroke="#111" stroke-width="1.6" fill="none" stroke-linejoin="miter" stroke-miterlimit="8"/><rect x="207.5" y="562.9" width="7.0" height="6.4" fill="#000080"/><text x="360.61" y="558.40" font-size="19.30" textLength="67.93" lengthAdjust="spacingAndGlyphs" fill="#111" stroke="#111" stroke-width="0.4" style="font-style:italic;" >NKAPL</text><path d="M429.5 551.5H447.7M438.5 548.2L447.7 551.5L438.5 554.8" stroke="#111" stroke-width="1.6" fill="none" stroke-linejoin="miter" stroke-miterlimit="8"/><rect x="403.0" y="562.9" width="1.5" height="6.4" fill="#000080"/><text x="518.74" y="558.40" font-size="19.30" textLength="90.30" lengthAdjust="spacingAndGlyphs" fill="#111" stroke="#111" stroke-width="0.4" style="font-style:italic;" >ZSCAN12</text><path d="M514.2 551.5H496.1M505.2 548.2L496.1 551.5L505.2 554.8" stroke="#111" stroke-width="1.6" fill="none" stroke-linejoin="miter" stroke-miterlimit="8"/><path d="M540.0 566.1H565.0" stroke="#000080" stroke-width="1.1"/><rect x="540.0" y="562.9" width="1.5" height="6.4" fill="#000080"/><rect x="542.5" y="562.9" width="1.5" height="6.4" fill="#000080"/><rect x="549.0" y="562.9" width="5.0" height="6.4" fill="#000080"/><rect x="555.5" y="562.9" width="1.5" height="6.4" fill="#000080"/><rect x="563.5" y="562.9" width="1.5" height="6.4" fill="#000080"/><text x="679.00" y="558.40" font-size="19.30" textLength="54.30" lengthAdjust="spacingAndGlyphs" fill="#111" stroke="#111" stroke-width="0.4" style="font-style:italic;" >GPX5</text><path d="M735.8 551.5H754.0M744.8 548.2L754.0 551.5L744.8 554.8" stroke="#111" stroke-width="1.6" fill="none" stroke-linejoin="miter" stroke-miterlimit="8"/><path d="M709.5 566.1H722.0" stroke="#000080" stroke-width="1.1"/><rect x="709.5" y="562.9" width="1.5" height="6.4" fill="#000080"/><rect x="713.0" y="562.9" width="1.5" height="6.4" fill="#000080"/><rect x="716.5" y="562.9" width="1.5" height="6.4" fill="#000080"/><rect x="720.0" y="562.9" width="2.0" height="6.4" fill="#000080"/><text x="1094.37" y="558.40" font-size="19.30" textLength="68.50" lengthAdjust="spacingAndGlyphs" fill="#111" stroke="#111" stroke-width="0.4" style="font-style:italic;" >HCG14</text><path d="M1164.5 551.5H1182.7M1173.5 548.2L1182.7 551.5L1173.5 554.8" stroke="#111" stroke-width="1.6" fill="none" stroke-linejoin="miter" stroke-miterlimit="8"/><rect x="1137.3" y="562.9" width="1.3" height="6.4" fill="#000080"/><text x="1240.59" y="558.40" font-size="19.30" textLength="73.05" lengthAdjust="spacingAndGlyphs" fill="#111" stroke="#111" stroke-width="0.4" style="font-style:italic;" >OR2W1</text><path d="M1237.6 551.5H1219.4M1228.6 548.2L1219.4 551.5L1228.6 554.8" stroke="#111" stroke-width="1.6" fill="none" stroke-linejoin="miter" stroke-miterlimit="8"/><rect x="1307.7" y="562.9" width="1.5" height="6.4" fill="#000080"/><text x="199.49" y="600.90" font-size="19.30" textLength="140.21" lengthAdjust="spacingAndGlyphs" fill="#111" stroke="#111" stroke-width="0.4" style="font-style:italic;" >ZSCAN16−AS1</text><path d="M195.0 594.0H176.8M186.0 590.7L176.8 594.0L186.0 597.3" stroke="#111" stroke-width="1.6" fill="none" stroke-linejoin="miter" stroke-miterlimit="8"/><path d="M243.8 608.6H263.0" stroke="#000080" stroke-width="1.1"/><rect x="243.8" y="605.4" width="1.5" height="6.4" fill="#000080"/><rect x="247.0" y="605.4" width="1.5" height="6.4" fill="#000080"/><rect x="261.5" y="605.4" width="1.5" height="6.4" fill="#000080"/><text x="396.36" y="600.90" font-size="19.30" textLength="70.50" lengthAdjust="spacingAndGlyphs" fill="#111" stroke="#111" stroke-width="0.4" style="font-style:italic;" >PGBD1</text><path d="M467.5 594.0H485.7M476.5 590.7L485.7 594.0L476.5 597.3" stroke="#111" stroke-width="1.6" fill="none" stroke-linejoin="miter" stroke-miterlimit="8"/><path d="M428.0 608.6H453.8" stroke="#000080" stroke-width="1.1"/><rect x="428.0" y="605.4" width="1.5" height="6.4" fill="#000080"/><rect x="430.5" y="605.4" width="1.5" height="6.4" fill="#000080"/><rect x="433.0" y="605.4" width="1.5" height="6.4" fill="#000080"/><rect x="446.0" y="605.4" width="2.0" height="6.4" fill="#000080"/><rect x="450.0" y="605.4" width="3.8" height="6.4" fill="#000080"/><text x="574.99" y="600.90" font-size="19.30" textLength="90.68" lengthAdjust="spacingAndGlyphs" fill="#111" stroke="#111" stroke-width="0.4" style="font-style:italic;" >ZSCAN23</text><path d="M570.5 594.0H552.3M561.5 590.7L552.3 594.0L561.5 597.3" stroke="#111" stroke-width="1.6" fill="none" stroke-linejoin="miter" stroke-miterlimit="8"/><path d="M603.0 608.6H616.3" stroke="#000080" stroke-width="1.1"/><rect x="603.0" y="605.4" width="5.0" height="6.4" fill="#000080"/><rect x="614.8" y="605.4" width="1.5" height="6.4" fill="#000080"/><text x="751.24" y="600.90" font-size="19.30" textLength="64.92" lengthAdjust="spacingAndGlyphs" fill="#111" stroke="#111" stroke-width="0.4" style="font-style:italic;" >ZBED9</text><path d="M746.8 594.0H728.5M737.8 590.7L728.5 594.0L737.8 597.3" stroke="#111" stroke-width="1.6" fill="none" stroke-linejoin="miter" stroke-miterlimit="8"/><path d="M763.0 608.6H782.5" stroke="#000080" stroke-width="1.1"/><rect x="763.0" y="605.4" width="5.5" height="6.4" fill="#000080"/><rect x="771.0" y="605.4" width="1.5" height="6.4" fill="#000080"/><rect x="781.0" y="605.4" width="1.5" height="6.4" fill="#000080"/><text x="1130.39" y="600.90" font-size="19.30" textLength="71.69" lengthAdjust="spacingAndGlyphs" fill="#111" stroke="#111" stroke-width="0.4" style="font-style:italic;" >TRIM27</text><path d="M1128.1 594.0H1109.9M1119.1 590.7L1109.9 594.0L1119.1 597.3" stroke="#111" stroke-width="1.6" fill="none" stroke-linejoin="miter" stroke-miterlimit="8"/><path d="M1145.0 608.6H1170.0" stroke="#000080" stroke-width="1.1"/><rect x="1145.0" y="605.4" width="2.0" height="6.4" fill="#000080"/><rect x="1148.0" y="605.4" width="2.0" height="6.4" fill="#000080"/><rect x="1152.0" y="605.4" width="1.5" height="6.4" fill="#000080"/><rect x="1163.0" y="605.4" width="1.5" height="6.4" fill="#000080"/><rect x="1166.0" y="605.4" width="2.0" height="6.4" fill="#000080"/><rect x="1168.5" y="605.4" width="1.5" height="6.4" fill="#000080"/><text x="196.64" y="643.40" font-size="19.30" textLength="89.96" lengthAdjust="spacingAndGlyphs" fill="#111" stroke="#111" stroke-width="0.4" style="font-style:italic;" >ZSCAN16</text><path d="M289.0 636.5H307.2M298.0 633.2L307.2 636.5L298.0 639.8" stroke="#111" stroke-width="1.6" fill="none" stroke-linejoin="miter" stroke-miterlimit="8"/><path d="M247.5 651.1H255.0" stroke="#000080" stroke-width="1.1"/><rect x="247.5" y="647.9" width="1.8" height="6.4" fill="#000080"/><rect x="251.0" y="647.9" width="1.5" height="6.4" fill="#000080"/><rect x="253.5" y="647.9" width="1.5" height="6.4" fill="#000080"/><text x="355.74" y="643.40" font-size="19.30" textLength="92.51" lengthAdjust="spacingAndGlyphs" fill="#111" stroke="#111" stroke-width="0.4" style="font-style:italic;" >ZKSCAN4</text><path d="M351.2 636.5H333.1M342.2 633.2L333.1 636.5L342.2 639.8" stroke="#111" stroke-width="1.6" fill="none" stroke-linejoin="miter" stroke-miterlimit="8"/><path d="M386.3 651.1H395.5" stroke="#000080" stroke-width="1.1"/><rect x="386.3" y="647.9" width="2.2" height="6.4" fill="#000080"/><rect x="390.5" y="647.9" width="1.8" height="6.4" fill="#000080"/><rect x="393.3" y="647.9" width="2.2" height="6.4" fill="#000080"/><text x="1141.28" y="643.40" font-size="19.30" textLength="83.29" lengthAdjust="spacingAndGlyphs" fill="#111" stroke="#111" stroke-width="0.4" style="font-style:italic;" >C6orf100</text><path d="M1226.8 636.5H1245.0M1235.8 633.2L1245.0 636.5L1235.8 639.8" stroke="#111" stroke-width="1.6" fill="none" stroke-linejoin="miter" stroke-miterlimit="8"/><rect x="1192.3" y="647.9" width="1.2" height="6.4" fill="#000080"/><text x="222.39" y="685.90" font-size="19.30" textLength="92.33" lengthAdjust="spacingAndGlyphs" fill="#111" stroke="#111" stroke-width="0.4" style="font-style:italic;" >ZKSCAN8</text><path d="M317.0 679.0H335.2M326.0 675.7L335.2 679.0L326.0 682.3" stroke="#111" stroke-width="1.6" fill="none" stroke-linejoin="miter" stroke-miterlimit="8"/><path d="M267.0 693.6H288.8" stroke="#000080" stroke-width="1.1"/><rect x="267.0" y="690.4" width="1.3" height="6.4" fill="#000080"/><rect x="270.0" y="690.4" width="1.3" height="6.4" fill="#000080"/><rect x="274.0" y="690.4" width="1.5" height="6.4" fill="#000080"/><rect x="278.5" y="690.4" width="10.3" height="6.4" fill="#000080"/><text x="364.14" y="685.90" font-size="19.30" textLength="89.96" lengthAdjust="spacingAndGlyphs" fill="#111" stroke="#111" stroke-width="0.4" style="font-style:italic;" >ZSCAN26</text><path d="M456.5 679.0H474.7M465.5 675.7L474.7 679.0L465.5 682.3" stroke="#111" stroke-width="1.6" fill="none" stroke-linejoin="miter" stroke-miterlimit="8"/><path d="M411.3 693.6H425.5" stroke="#000080" stroke-width="1.1"/><rect x="411.3" y="690.4" width="1.5" height="6.4" fill="#000080"/><rect x="418.0" y="690.4" width="1.5" height="6.4" fill="#000080"/><rect x="421.0" y="690.4" width="1.5" height="6.4" fill="#000080"/><rect x="424.0" y="690.4" width="1.5" height="6.4" fill="#000080"/><text x="1147.78" y="685.90" font-size="19.30" textLength="141.92" lengthAdjust="spacingAndGlyphs" fill="#111" stroke="#111" stroke-width="0.4" style="font-style:italic;" >LOC100129636</text><path d="M1292.1 679.0H1310.3M1301.1 675.7L1310.3 679.0L1301.1 682.3" stroke="#111" stroke-width="1.6" fill="none" stroke-linejoin="miter" stroke-miterlimit="8"/><path d="M1297.7 693.6H1320.0" stroke="#000080" stroke-width="1.1"/><rect x="1297.7" y="690.4" width="1.5" height="6.4" fill="#000080"/><rect x="1301.0" y="690.4" width="1.5" height="6.4" fill="#000080"/><rect x="1305.0" y="690.4" width="1.5" height="6.4" fill="#000080"/><text x="237.40" y="727.40" font-size="19.30" textLength="98.42" lengthAdjust="spacingAndGlyphs" fill="#111" stroke="#111" stroke-width="0.4" style="font-style:italic;" >ZNF192P1</text><path d="M336.5 720.5H354.7M345.5 717.2L354.7 720.5L345.5 723.8" stroke="#111" stroke-width="1.6" fill="none" stroke-linejoin="miter" stroke-miterlimit="8"/><path d="M290.0 735.1H300.0" stroke="#000080" stroke-width="1.1"/><rect x="290.0" y="731.9" width="2.0" height="6.4" fill="#000080"/><rect x="293.5" y="731.9" width="1.5" height="6.4" fill="#000080"/><rect x="296.5" y="731.9" width="1.5" height="6.4" fill="#000080"/><rect x="298.5" y="731.9" width="1.5" height="6.4" fill="#000080"/><text x="463.09" y="727.40" font-size="19.30" textLength="92.98" lengthAdjust="spacingAndGlyphs" fill="#111" stroke="#111" stroke-width="0.4" style="font-style:italic;" >ZKSCAN3</text><path d="M558.3 720.5H576.5M567.3 717.2L576.5 720.5L567.3 723.8" stroke="#111" stroke-width="1.6" fill="none" stroke-linejoin="miter" stroke-miterlimit="8"/><path d="M506.6 735.1H530.0" stroke="#000080" stroke-width="1.1"/><rect x="506.6" y="731.9" width="1.4" height="6.4" fill="#000080"/><rect x="516.5" y="731.9" width="1.5" height="6.4" fill="#000080"/><rect x="519.5" y="731.9" width="1.5" height="6.4" fill="#000080"/><rect x="522.5" y="731.9" width="1.5" height="6.4" fill="#000080"/><rect x="525.0" y="731.9" width="5.0" height="6.4" fill="#000080"/><text x="319.89" y="769.15" font-size="19.30" textLength="78.87" lengthAdjust="spacingAndGlyphs" fill="#111" stroke="#111" stroke-width="0.4" style="font-style:italic;" >ZSCAN9</text><path d="M400.8 762.2H418.9M409.8 759.0L418.9 762.2L409.8 765.5" stroke="#111" stroke-width="1.6" fill="none" stroke-linejoin="miter" stroke-miterlimit="8"/><path d="M362.5 776.9H373.8" stroke="#000080" stroke-width="1.1"/><rect x="362.5" y="773.6" width="1.5" height="6.4" fill="#000080"/><rect x="365.5" y="773.6" width="1.5" height="6.4" fill="#000080"/><rect x="368.5" y="773.6" width="1.5" height="6.4" fill="#000080"/><rect x="371.0" y="773.6" width="1.5" height="6.4" fill="#000080"/><rect x="372.5" y="773.6" width="1.3" height="6.4" fill="#000080"/>
<text x="348.99" y="837.50" font-size="22.20" textLength="46.02" lengthAdjust="spacingAndGlyphs" fill="#333333" stroke="#333333" stroke-width="0.4" style="">28.2</text>
<text x="579.59" y="837.50" font-size="22.20" textLength="46.02" lengthAdjust="spacingAndGlyphs" fill="#333333" stroke="#333333" stroke-width="0.4" style="">28.4</text>
<text x="810.19" y="837.50" font-size="22.20" textLength="46.02" lengthAdjust="spacingAndGlyphs" fill="#333333" stroke="#333333" stroke-width="0.4" style="">28.6</text>
<text x="1040.79" y="837.50" font-size="22.20" textLength="46.02" lengthAdjust="spacingAndGlyphs" fill="#333333" stroke="#333333" stroke-width="0.4" style="">28.8</text>
<text x="1281.25" y="837.50" font-size="22.20" textLength="26.30" lengthAdjust="spacingAndGlyphs" fill="#333333" stroke="#333333" stroke-width="0.4" style="">29</text>
<path d="M372.0 788.75V803.2M602.6 788.75V803.2M833.2 788.75V803.2M1063.8 788.75V803.2M1294.4 788.75V803.2" stroke="#555" stroke-width="1.2"/>
<text x="629.02" y="868.80" font-size="23.30" textLength="229.78" lengthAdjust="spacingAndGlyphs" fill="#333333" stroke="#333333" stroke-width="0.4" style="" >Position on chr6 (Mb)</text>
<text x="683.87" y="911.50" font-size="46.90" textLength="116.36" lengthAdjust="spacingAndGlyphs" fill="#000" stroke="#000" stroke-width="0.4" style="" >FBN1</text>
<text x="36.20" y="958.00" font-size="21.20" textLength="130.59" lengthAdjust="spacingAndGlyphs" fill="#333333" stroke="#333333" stroke-width="0.4" style="" >Plotted SNPs</text>
<path d="M174.5 939.0V959.0M178.5 939.0V959.0M182.5 939.0V959.0M186.5 939.0V959.0M190.5 939.0V959.0M193.5 939.0V959.0M196.5 939.0V959.0M198.5 939.0V959.0M200.5 939.0V959.0M202.5 939.0V959.0M207.5 939.0V959.0M218.5 939.0V959.0M220.5 939.0V959.0M225.5 939.0V959.0M229.5 939.0V959.0M238.5 939.0V959.0M241.5 939.0V959.0M248.5 939.0V959.0M256.5 939.0V959.0M257.5 939.0V959.0M260.5 939.0V959.0M265.5 939.0V959.0M267.5 939.0V959.0M272.5 939.0V959.0M276.5 939.0V959.0M280.5 939.0V959.0M294.5 939.0V959.0M297.5 939.0V959.0M299.5 939.0V959.0M302.5 939.0V959.0M309.5 939.0V959.0M313.5 939.0V959.0M315.5 939.0V959.0M317.5 939.0V959.0M337.5 939.0V959.0M339.5 939.0V959.0M341.5 939.0V959.0M344.5 939.0V959.0M345.5 939.0V959.0M354.5 939.0V959.0M364.5 939.0V959.0M373.5 939.0V959.0M377.5 939.0V959.0M382.5 939.0V959.0M384.5 939.0V959.0M394.5 939.0V959.0M418.5 939.0V959.0M420.5 939.0V959.0M423.5 939.0V959.0M426.5 939.0V959.0M428.5 939.0V959.0M432.5 939.0V959.0M453.5 939.0V959.0M454.5 939.0V959.0M459.5 939.0V959.0M465.5 939.0V959.0M471.5 939.0V959.0M514.5 939.0V959.0M515.5 939.0V959.0M516.5 939.0V959.0M523.5 939.0V959.0M548.5 939.0V959.0M553.5 939.0V959.0M556.5 939.0V959.0M559.5 939.0V959.0M561.5 939.0V959.0M563.5 939.0V959.0M574.5 939.0V959.0M575.5 939.0V959.0M576.5 939.0V959.0M577.5 939.0V959.0M597.5 939.0V959.0M598.5 939.0V959.0M599.5 939.0V959.0M602.5 939.0V959.0M604.5 939.0V959.0M606.5 939.0V959.0M619.5 939.0V959.0M622.5 939.0V959.0M627.5 939.0V959.0M647.5 939.0V959.0M652.5 939.0V959.0M657.5 939.0V959.0M660.5 939.0V959.0M664.5 939.0V959.0M666.5 939.0V959.0M667.5 939.0V959.0M670.5 939.0V959.0M688.5 939.0V959.0M696.5 939.0V959.0M701.5 939.0V959.0M708.5 939.0V959.0M711.5 939.0V959.0M718.5 939.0V959.0M719.5 939.0V959.0M726.5 939.0V959.0M727.5 939.0V959.0M738.5 939.0V959.0M744.5 939.0V959.0M762.5 939.0V959.0M769.5 939.0V959.0M776.5 939.0V959.0M791.5 939.0V959.0M799.5 939.0V959.0M801.5 939.0V959.0M803.5 939.0V959.0M816.5 939.0V959.0M824.5 939.0V959.0M826.5 939.0V959.0M831.5 939.0V959.0M838.5 939.0V959.0M841.5 939.0V959.0M864.5 939.0V959.0M881.5 939.0V959.0M888.5 939.0V959.0M899.5 939.0V959.0M908.5 939.0V959.0M912.5 939.0V959.0M924.5 939.0V959.0M929.5 939.0V959.0M944.5 939.0V959.0M945.5 939.0V959.0M952.5 939.0V959.0M964.5 939.0V959.0M971.5 939.0V959.0M977.5 939.0V959.0M982.5 939.0V959.0M999.5 939.0V959.0M1002.5 939.0V959.0M1005.5 939.0V959.0M1014.5 939.0V959.0M1020.5 939.0V959.0M1022.5 939.0V959.0M1024.5 939.0V959.0M1026.5 939.0V959.0M1035.5 939.0V959.0M1042.5 939.0V959.0M1052.5 939.0V959.0M1056.5 939.0V959.0M1065.5 939.0V959.0M1088.5 939.0V959.0M1096.5 939.0V959.0M1099.5 939.0V959.0M1108.5 939.0V959.0M1116.5 939.0V959.0M1120.5 939.0V959.0M1122.5 939.0V959.0M1131.5 939.0V959.0M1133.5 939.0V959.0M1139.5 939.0V959.0M1145.5 939.0V959.0M1151.5 939.0V959.0M1154.5 939.0V959.0M1165.5 939.0V959.0M1174.5 939.0V959.0M1180.5 939.0V959.0M1186.5 939.0V959.0M1191.5 939.0V959.0M1193.5 939.0V959.0M1200.5 939.0V959.0M1207.5 939.0V959.0M1209.5 939.0V959.0M1213.5 939.0V959.0M1214.5 939.0V959.0M1216.5 939.0V959.0M1217.5 939.0V959.0M1218.5 939.0V959.0M1219.5 939.0V959.0M1220.5 939.0V959.0M1222.5 939.0V959.0M1223.5 939.0V959.0M1224.5 939.0V959.0M1226.5 939.0V959.0M1227.5 939.0V959.0M1228.5 939.0V959.0M1230.5 939.0V959.0M1232.5 939.0V959.0M1237.5 939.0V959.0M1241.5 939.0V959.0M1244.5 939.0V959.0M1247.5 939.0V959.0M1249.5 939.0V959.0M1252.5 939.0V959.0M1277.5 939.0V959.0M1278.5 939.0V959.0M1288.5 939.0V959.0M1296.5 939.0V959.0M1304.5 939.0V959.0M1306.5 939.0V959.0M1307.5 939.0V959.0M1215.5 939.0V959.0M1221.5 939.0V959.0M1225.5 939.0V959.0" stroke="#3c3c3c" stroke-width="1.3" fill="none"/>
<clipPath id="c2"><rect x="172.8" y="989.5" width="1142.6000000000001" height="480.5999999999999"/></clipPath>
<g clip-path="url(#c2)">
<polyline points="165.0,1447.5 186.8,1447.5 187.9,1362.9 189.2,1447.5 201.5,1447.5 202.5,1401.0 204.0,1447.5 225.4,1447.5 226.4,1428.9 227.4,1447.5 257.0,1447.5 258.0,1314.4 259.2,1447.5 277.0,1447.5 281.6,1440.3 286.0,1447.5 344.4,1447.5 345.5,1350.8 346.6,1447.5 402.6,1447.5 403.6,1400.8 409.4,1400.8 410.4,1447.5 427.8,1447.5 428.8,1371.6 429.8,1447.5 501.0,1447.5 503.9,1444.5 507.0,1447.5 551.6,1447.5 552.6,1212.4 553.8,1447.5 621.5,1447.5 623.6,1438.2 625.7,1447.5 650.0,1447.5 651.7,1444.0 653.4,1447.5 690.4,1447.5 691.3,1393.5 693.0,1393.5 694.0,1445.0 709.3,1445.0 710.4,1348.0 711.6,1403.0 716.0,1403.0 718.0,1444.0 749.0,1446.0 751.0,1441.0 753.0,1446.5 957.3,1447.5 958.3,1428.0 962.5,1428.0 963.5,1447.5 999.4,1447.5 1000.6,1266.8 1001.8,1447.5 1021.0,1447.5 1022.0,1392.9 1023.0,1447.5 1084.0,1447.5 1085.7,1410.0 1087.5,1447.5 1150.5,1447.5 1152.0,1422.7 1153.5,1447.5 1205.2,1447.5 1206.4,1335.6 1207.6,1447.5 1245.3,1447.5 1246.5,1293.3 1247.8,1447.5 1249.0,1447.5 1250.0,1394.0 1251.0,1447.5 1320.0,1447.5" fill="none" stroke="#2f2fff" stroke-width="2.7" stroke-linejoin="round"/>
<g stroke="#2a2a2a" stroke-width="1.1"><ellipse cx="513.3" cy="1427.8" rx="8.6" ry="7.95" fill="#A0A0A0"/><ellipse cx="515.4" cy="1424.7" rx="8.6" ry="7.95" fill="#A0A0A0"/><ellipse cx="523.7" cy="1423.7" rx="8.6" ry="7.95" fill="#A0A0A0"/><ellipse cx="196.6" cy="1367.4" rx="8.6" ry="7.95" fill="#000080"/><ellipse cx="176.4" cy="1409.1" rx="8.6" ry="7.95" fill="#000080"/><ellipse cx="183.7" cy="1416.4" rx="8.6" ry="7.95" fill="#000080"/><ellipse cx="187.9" cy="1423.7" rx="8.6" ry="7.95" fill="#000080"/><ellipse cx="177.5" cy="1429.9" rx="8.6" ry="7.95" fill="#000080"/><ellipse cx="184.8" cy="1440.3" rx="8.6" ry="7.95" fill="#000080"/><ellipse cx="176.4" cy="1442.4" rx="8.6" ry="7.95" fill="#000080"/><ellipse cx="192.0" cy="1442.4" rx="8.6" ry="7.95" fill="#000080"/><ellipse cx="200.4" cy="1423.7" rx="8.6" ry="7.95" fill="#000080"/><ellipse cx="198.3" cy="1444.5" rx="8.6" ry="7.95" fill="#000080"/><ellipse cx="206.6" cy="1435.1" rx="8.6" ry="7.95" fill="#000080"/><ellipse cx="207.7" cy="1408.0" rx="8.6" ry="7.95" fill="#000080"/><ellipse cx="229.1" cy="1395.6" rx="8.6" ry="7.95" fill="#000080"/><ellipse cx="227.4" cy="1417.4" rx="8.6" ry="7.95" fill="#000080"/><ellipse cx="231.6" cy="1418.5" rx="8.6" ry="7.95" fill="#000080"/><ellipse cx="237.9" cy="1427.8" rx="8.6" ry="7.95" fill="#000080"/><ellipse cx="242.0" cy="1435.1" rx="8.6" ry="7.95" fill="#000080"/><ellipse cx="248.3" cy="1423.7" rx="8.6" ry="7.95" fill="#000080"/><ellipse cx="218.1" cy="1441.4" rx="8.6" ry="7.95" fill="#000080"/><ellipse cx="222.2" cy="1441.4" rx="8.6" ry="7.95" fill="#000080"/><ellipse cx="259.7" cy="1413.2" rx="8.6" ry="7.95" fill="#000080"/><ellipse cx="272.2" cy="1412.2" rx="8.6" ry="7.95" fill="#000080"/><ellipse cx="277.4" cy="1416.4" rx="8.6" ry="7.95" fill="#000080"/><ellipse cx="262.8" cy="1423.7" rx="8.6" ry="7.95" fill="#000080"/><ellipse cx="253.5" cy="1434.1" rx="8.6" ry="7.95" fill="#000080"/><ellipse cx="264.9" cy="1433.0" rx="8.6" ry="7.95" fill="#000080"/><ellipse cx="258.7" cy="1446.6" rx="8.6" ry="7.95" fill="#000080"/><ellipse cx="267.0" cy="1443.4" rx="8.6" ry="7.95" fill="#000080"/><ellipse cx="280.5" cy="1423.7" rx="8.6" ry="7.95" fill="#000080"/><ellipse cx="298.2" cy="1415.3" rx="8.6" ry="7.95" fill="#000080"/><ellipse cx="294.1" cy="1423.7" rx="8.6" ry="7.95" fill="#000080"/><ellipse cx="301.4" cy="1429.9" rx="8.6" ry="7.95" fill="#000080"/><ellipse cx="300.3" cy="1436.2" rx="8.6" ry="7.95" fill="#000080"/><ellipse cx="310.7" cy="1413.2" rx="8.6" ry="7.95" fill="#000080"/><ellipse cx="313.9" cy="1413.2" rx="8.6" ry="7.95" fill="#000080"/><ellipse cx="315.9" cy="1424.7" rx="8.6" ry="7.95" fill="#000080"/><ellipse cx="317.0" cy="1440.3" rx="8.6" ry="7.95" fill="#000080"/><ellipse cx="337.8" cy="1417.4" rx="8.6" ry="7.95" fill="#000080"/><ellipse cx="344.0" cy="1415.3" rx="8.6" ry="7.95" fill="#000080"/><ellipse cx="345.1" cy="1428.9" rx="8.6" ry="7.95" fill="#000080"/><ellipse cx="354.4" cy="1432.0" rx="8.6" ry="7.95" fill="#000080"/><ellipse cx="338.8" cy="1443.4" rx="8.6" ry="7.95" fill="#000080"/><ellipse cx="346.1" cy="1443.4" rx="8.6" ry="7.95" fill="#000080"/><ellipse cx="354.4" cy="1447.6" rx="8.6" ry="7.95" fill="#000080"/><ellipse cx="363.8" cy="1395.6" rx="8.6" ry="7.95" fill="#000080"/><ellipse cx="384.6" cy="1395.6" rx="8.6" ry="7.95" fill="#000080"/><ellipse cx="375.3" cy="1418.5" rx="8.6" ry="7.95" fill="#000080"/><ellipse cx="381.5" cy="1415.3" rx="8.6" ry="7.95" fill="#000080"/><ellipse cx="373.2" cy="1428.9" rx="8.6" ry="7.95" fill="#000080"/><ellipse cx="393.0" cy="1428.9" rx="8.6" ry="7.95" fill="#000080"/><ellipse cx="416.9" cy="1407.0" rx="8.6" ry="7.95" fill="#000080"/><ellipse cx="431.5" cy="1406.0" rx="8.6" ry="7.95" fill="#000080"/><ellipse cx="424.2" cy="1423.7" rx="8.6" ry="7.95" fill="#000080"/><ellipse cx="419.0" cy="1430.9" rx="8.6" ry="7.95" fill="#000080"/><ellipse cx="427.3" cy="1441.4" rx="8.6" ry="7.95" fill="#000080"/><ellipse cx="431.0" cy="1423.7" rx="8.6" ry="7.95" fill="#000080"/><ellipse cx="431.0" cy="1440.3" rx="8.6" ry="7.95" fill="#000080"/><ellipse cx="452.9" cy="1440.3" rx="8.6" ry="7.95" fill="#000080"/><ellipse cx="458.1" cy="1440.3" rx="8.6" ry="7.95" fill="#000080"/><ellipse cx="465.4" cy="1424.7" rx="8.6" ry="7.95" fill="#000080"/><ellipse cx="471.6" cy="1439.3" rx="8.6" ry="7.95" fill="#000080"/><ellipse cx="517.0" cy="1445.5" rx="8.6" ry="7.95" fill="#000080"/><ellipse cx="550.8" cy="1404.9" rx="8.6" ry="7.95" fill="#000080"/><ellipse cx="561.2" cy="1403.9" rx="8.6" ry="7.95" fill="#000080"/><ellipse cx="556.0" cy="1423.7" rx="8.6" ry="7.95" fill="#000080"/><ellipse cx="563.3" cy="1421.6" rx="8.6" ry="7.95" fill="#000080"/><ellipse cx="550.8" cy="1433.0" rx="8.6" ry="7.95" fill="#000080"/><ellipse cx="559.1" cy="1430.9" rx="8.6" ry="7.95" fill="#000080"/><ellipse cx="547.6" cy="1447.6" rx="8.6" ry="7.95" fill="#000080"/><ellipse cx="556.0" cy="1447.6" rx="8.6" ry="7.95" fill="#000080"/><ellipse cx="576.8" cy="1412.2" rx="8.6" ry="7.95" fill="#000080"/><ellipse cx="574.7" cy="1423.7" rx="8.6" ry="7.95" fill="#000080"/><ellipse cx="577.8" cy="1439.3" rx="8.6" ry="7.95" fill="#000080"/><ellipse cx="573.7" cy="1446.6" rx="8.6" ry="7.95" fill="#000080"/><ellipse cx="599.7" cy="1434.1" rx="8.6" ry="7.95" fill="#000080"/><ellipse cx="596.6" cy="1443.4" rx="8.6" ry="7.95" fill="#000080"/><ellipse cx="601.8" cy="1441.4" rx="8.6" ry="7.95" fill="#000080"/><ellipse cx="607.0" cy="1447.6" rx="8.6" ry="7.95" fill="#000080"/><ellipse cx="626.8" cy="1409.1" rx="8.6" ry="7.95" fill="#000080"/><ellipse cx="619.5" cy="1421.6" rx="8.6" ry="7.95" fill="#000080"/><ellipse cx="622.6" cy="1423.7" rx="8.6" ry="7.95" fill="#000080"/><ellipse cx="646.5" cy="1423.7" rx="8.6" ry="7.95" fill="#000080"/><ellipse cx="651.7" cy="1423.7" rx="8.6" ry="7.95" fill="#000080"/><ellipse cx="655.9" cy="1432.0" rx="8.6" ry="7.95" fill="#000080"/><ellipse cx="661.1" cy="1393.5" rx="8.6" ry="7.95" fill="#000080"/><ellipse cx="664.2" cy="1395.6" rx="8.6" ry="7.95" fill="#000080"/><ellipse cx="669.4" cy="1411.2" rx="8.6" ry="7.95" fill="#000080"/><ellipse cx="667.3" cy="1424.7" rx="8.6" ry="7.95" fill="#000080"/><ellipse cx="688.2" cy="1371.6" rx="8.6" ry="7.95" fill="#000080"/><ellipse cx="696.5" cy="1385.1" rx="8.6" ry="7.95" fill="#000080"/><ellipse cx="700.7" cy="1397.6" rx="8.6" ry="7.95" fill="#000080"/><ellipse cx="709.0" cy="1417.4" rx="8.6" ry="7.95" fill="#000080"/><ellipse cx="697.6" cy="1433.0" rx="8.6" ry="7.95" fill="#000080"/><ellipse cx="725.3" cy="1295.4" rx="8.6" ry="7.95" fill="#000080"/><ellipse cx="725.3" cy="1337.0" rx="8.6" ry="7.95" fill="#000080"/><ellipse cx="709.0" cy="1446.6" rx="8.6" ry="7.95" fill="#000080"/><ellipse cx="717.3" cy="1446.6" rx="8.6" ry="7.95" fill="#000080"/><ellipse cx="725.6" cy="1444.5" rx="8.6" ry="7.95" fill="#000080"/><ellipse cx="726.0" cy="1437.6" rx="8.6" ry="7.95" fill="#000080"/><ellipse cx="710.4" cy="1445.9" rx="8.6" ry="7.95" fill="#000080"/><ellipse cx="738.5" cy="1436.5" rx="8.6" ry="7.95" fill="#000080"/><ellipse cx="738.5" cy="1446.9" rx="8.6" ry="7.95" fill="#000080"/><ellipse cx="881.8" cy="1266.8" rx="8.6" ry="7.95" fill="#000080"/><ellipse cx="770.8" cy="1388.6" rx="8.6" ry="7.95" fill="#000080"/><ellipse cx="841.6" cy="1408.4" rx="8.6" ry="7.95" fill="#000080"/><ellipse cx="881.8" cy="1416.8" rx="8.6" ry="7.95" fill="#000080"/><ellipse cx="703.1" cy="1398.0" rx="8.6" ry="7.95" fill="#000080"/><ellipse cx="762.5" cy="1435.5" rx="8.6" ry="7.95" fill="#000080"/><ellipse cx="769.7" cy="1437.6" rx="8.6" ry="7.95" fill="#000080"/><ellipse cx="776.0" cy="1442.8" rx="8.6" ry="7.95" fill="#000080"/><ellipse cx="791.6" cy="1434.4" rx="8.6" ry="7.95" fill="#000080"/><ellipse cx="801.0" cy="1425.1" rx="8.6" ry="7.95" fill="#000080"/><ellipse cx="803.1" cy="1437.6" rx="8.6" ry="7.95" fill="#000080"/><ellipse cx="814.5" cy="1427.2" rx="8.6" ry="7.95" fill="#000080"/><ellipse cx="816.6" cy="1439.7" rx="8.6" ry="7.95" fill="#000080"/><ellipse cx="824.9" cy="1423.0" rx="8.6" ry="7.95" fill="#000080"/><ellipse cx="824.9" cy="1434.4" rx="8.6" ry="7.95" fill="#000080"/><ellipse cx="833.2" cy="1434.4" rx="8.6" ry="7.95" fill="#000080"/><ellipse cx="839.5" cy="1433.4" rx="8.6" ry="7.95" fill="#000080"/><ellipse cx="865.5" cy="1443.8" rx="8.6" ry="7.95" fill="#000080"/><ellipse cx="886.3" cy="1434.4" rx="8.6" ry="7.95" fill="#000080"/><ellipse cx="898.8" cy="1433.4" rx="8.6" ry="7.95" fill="#000080"/><ellipse cx="912.4" cy="1435.5" rx="8.6" ry="7.95" fill="#000080"/><ellipse cx="907.2" cy="1448.0" rx="8.6" ry="7.95" fill="#000080"/><ellipse cx="924.9" cy="1443.8" rx="8.6" ry="7.95" fill="#000080"/><ellipse cx="929.0" cy="1428.2" rx="8.6" ry="7.95" fill="#000080"/><ellipse cx="944.6" cy="1431.3" rx="8.6" ry="7.95" fill="#000080"/><ellipse cx="945.7" cy="1439.7" rx="8.6" ry="7.95" fill="#000080"/><ellipse cx="947.8" cy="1419.9" rx="8.6" ry="7.95" fill="#000080"/><ellipse cx="953.0" cy="1410.5" rx="8.6" ry="7.95" fill="#000080"/><ellipse cx="963.4" cy="1423.0" rx="8.6" ry="7.95" fill="#000080"/><ellipse cx="970.7" cy="1433.4" rx="8.6" ry="7.95" fill="#000080"/><ellipse cx="978.0" cy="1420.9" rx="8.6" ry="7.95" fill="#000080"/><ellipse cx="982.1" cy="1440.7" rx="8.6" ry="7.95" fill="#000080"/><ellipse cx="997.7" cy="1393.8" rx="8.6" ry="7.95" fill="#000080"/><ellipse cx="997.7" cy="1435.5" rx="8.6" ry="7.95" fill="#000080"/><ellipse cx="1056.0" cy="1337.2" rx="8.6" ry="7.95" fill="#000080"/><ellipse cx="1001.4" cy="1392.9" rx="8.6" ry="7.95" fill="#000080"/><ellipse cx="1014.0" cy="1399.8" rx="8.6" ry="7.95" fill="#000080"/><ellipse cx="1020.9" cy="1413.5" rx="8.6" ry="7.95" fill="#000080"/><ellipse cx="1027.8" cy="1415.8" rx="8.6" ry="7.95" fill="#000080"/><ellipse cx="1006.0" cy="1422.7" rx="8.6" ry="7.95" fill="#000080"/><ellipse cx="1000.3" cy="1435.3" rx="8.6" ry="7.95" fill="#000080"/><ellipse cx="1023.2" cy="1435.3" rx="8.6" ry="7.95" fill="#000080"/><ellipse cx="1034.7" cy="1434.1" rx="8.6" ry="7.95" fill="#000080"/><ellipse cx="1041.5" cy="1430.7" rx="8.6" ry="7.95" fill="#000080"/><ellipse cx="1042.2" cy="1395.2" rx="8.6" ry="7.95" fill="#000080"/><ellipse cx="1051.8" cy="1415.8" rx="8.6" ry="7.95" fill="#000080"/><ellipse cx="1065.6" cy="1412.4" rx="8.6" ry="7.95" fill="#000080"/><ellipse cx="1087.3" cy="1445.6" rx="8.6" ry="7.95" fill="#000080"/><ellipse cx="1095.3" cy="1436.4" rx="8.6" ry="7.95" fill="#000080"/><ellipse cx="1098.8" cy="1443.3" rx="8.6" ry="7.95" fill="#000080"/><ellipse cx="1106.8" cy="1431.8" rx="8.6" ry="7.95" fill="#000080"/><ellipse cx="1109.1" cy="1444.4" rx="8.6" ry="7.95" fill="#000080"/><ellipse cx="1115.9" cy="1435.3" rx="8.6" ry="7.95" fill="#000080"/><ellipse cx="1121.7" cy="1434.1" rx="8.6" ry="7.95" fill="#000080"/><ellipse cx="1129.7" cy="1436.4" rx="8.6" ry="7.95" fill="#000080"/><ellipse cx="1132.0" cy="1442.1" rx="8.6" ry="7.95" fill="#000080"/><ellipse cx="1138.8" cy="1433.0" rx="8.6" ry="7.95" fill="#000080"/><ellipse cx="1148.0" cy="1433.0" rx="8.6" ry="7.95" fill="#000080"/><ellipse cx="1152.6" cy="1445.6" rx="8.6" ry="7.95" fill="#000080"/><ellipse cx="1164.0" cy="1439.8" rx="8.6" ry="7.95" fill="#000080"/><ellipse cx="1166.3" cy="1446.7" rx="8.6" ry="7.95" fill="#000080"/><ellipse cx="1175.5" cy="1441.0" rx="8.6" ry="7.95" fill="#000080"/><ellipse cx="1178.9" cy="1426.1" rx="8.6" ry="7.95" fill="#000080"/><ellipse cx="1180.1" cy="1435.3" rx="8.6" ry="7.95" fill="#000080"/><ellipse cx="1186.9" cy="1408.9" rx="8.6" ry="7.95" fill="#000080"/><ellipse cx="1191.5" cy="1429.5" rx="8.6" ry="7.95" fill="#000080"/><ellipse cx="1197.2" cy="1443.3" rx="8.6" ry="7.95" fill="#000080"/><ellipse cx="1199.5" cy="1446.7" rx="8.6" ry="7.95" fill="#000080"/><ellipse cx="1205.3" cy="1416.9" rx="8.6" ry="7.95" fill="#000080"/><ellipse cx="1207.5" cy="1445.6" rx="8.6" ry="7.95" fill="#000080"/><ellipse cx="1215.6" cy="1394.0" rx="8.6" ry="7.95" fill="#000080"/><ellipse cx="1219.0" cy="1403.2" rx="8.6" ry="7.95" fill="#000080"/><ellipse cx="1221.3" cy="1371.1" rx="8.6" ry="7.95" fill="#000080"/><ellipse cx="1223.6" cy="1396.3" rx="8.6" ry="7.95" fill="#000080"/><ellipse cx="1232.7" cy="1389.5" rx="8.6" ry="7.95" fill="#000080"/><ellipse cx="1230.4" cy="1407.8" rx="8.6" ry="7.95" fill="#000080"/><ellipse cx="1216.7" cy="1421.5" rx="8.6" ry="7.95" fill="#000080"/><ellipse cx="1219.0" cy="1431.8" rx="8.6" ry="7.95" fill="#000080"/><ellipse cx="1225.9" cy="1426.1" rx="8.6" ry="7.95" fill="#000080"/><ellipse cx="1232.7" cy="1425.0" rx="8.6" ry="7.95" fill="#000080"/><ellipse cx="1237.3" cy="1428.4" rx="8.6" ry="7.95" fill="#000080"/><ellipse cx="1223.6" cy="1446.7" rx="8.6" ry="7.95" fill="#000080"/><ellipse cx="1225.9" cy="1439.8" rx="8.6" ry="7.95" fill="#000080"/><ellipse cx="1248.8" cy="1414.6" rx="8.6" ry="7.95" fill="#000080"/><ellipse cx="1252.2" cy="1418.1" rx="8.6" ry="7.95" fill="#000080"/><ellipse cx="1252.2" cy="1429.5" rx="8.6" ry="7.95" fill="#000080"/><ellipse cx="1252.2" cy="1446.7" rx="8.6" ry="7.95" fill="#000080"/><ellipse cx="1276.2" cy="1438.7" rx="8.6" ry="7.95" fill="#000080"/><ellipse cx="1279.7" cy="1443.3" rx="8.6" ry="7.95" fill="#000080"/><ellipse cx="1287.7" cy="1442.1" rx="8.6" ry="7.95" fill="#000080"/><ellipse cx="1290.0" cy="1426.1" rx="8.6" ry="7.95" fill="#000080"/><ellipse cx="1296.8" cy="1425.0" rx="8.6" ry="7.95" fill="#000080"/><ellipse cx="1306.0" cy="1418.1" rx="8.6" ry="7.95" fill="#000080"/><ellipse cx="1306.0" cy="1435.3" rx="8.6" ry="7.95" fill="#000080"/><ellipse cx="736.6" cy="1093.7" rx="8.6" ry="7.95" fill="#FFA500"/></g>
<path d="M735.10 1093.70Q737.87 1087.08 745.00 1084.50Q752.13 1087.08 754.90 1093.70Q752.13 1100.32 745.00 1102.90Q737.87 1100.32 735.10 1093.70Z" fill="#7B24CF" stroke="#222" stroke-width="1.3"/>
</g>
<text x="694.00" y="1077.50" font-size="23.50" textLength="100.44" lengthAdjust="spacingAndGlyphs" fill="#000" stroke="#000" stroke-width="0.4" style="" >rs363830</text>
<rect x="172.8" y="989.5" width="1142.6000000000001" height="480.5999999999999" fill="none" stroke="#555" stroke-width="1.2"/>
<text x="131.65" y="1455.84" font-size="23.50" textLength="13.07" lengthAdjust="spacingAndGlyphs" fill="#333333" stroke="#333333" stroke-width="0.4">0</text>
<text x="131.91" y="1368.38" font-size="23.50" textLength="13.07" lengthAdjust="spacingAndGlyphs" fill="#333333" stroke="#333333" stroke-width="0.4">2</text>
<text x="131.42" y="1280.92" font-size="23.50" textLength="13.07" lengthAdjust="spacingAndGlyphs" fill="#333333" stroke="#333333" stroke-width="0.4">4</text>
<text x="131.76" y="1193.46" font-size="23.50" textLength="13.07" lengthAdjust="spacingAndGlyphs" fill="#333333" stroke="#333333" stroke-width="0.4">6</text>
<text x="131.75" y="1106.00" font-size="23.50" textLength="13.07" lengthAdjust="spacingAndGlyphs" fill="#333333" stroke="#333333" stroke-width="0.4">8</text>
<text x="118.58" y="1018.54" font-size="23.50" textLength="26.14" lengthAdjust="spacingAndGlyphs" fill="#333333" stroke="#333333" stroke-width="0.4">10</text>
<path d="M157.8 1447.5H172.8M157.8 1360.0H172.8M157.8 1272.6H172.8M157.8 1185.1H172.8M157.8 1097.7H172.8M157.8 1010.2H172.8" stroke="#555" stroke-width="1.2"/>
<text x="1345.06" y="1456.02" font-size="24.00" textLength="13.35" lengthAdjust="spacingAndGlyphs" fill="#2f2fff" stroke="#2f2fff" stroke-width="0.4">0</text>
<text x="1344.79" y="1368.56" font-size="24.00" textLength="26.70" lengthAdjust="spacingAndGlyphs" fill="#2f2fff" stroke="#2f2fff" stroke-width="0.4">20</text>
<text x="1345.45" y="1281.10" font-size="24.00" textLength="26.70" lengthAdjust="spacingAndGlyphs" fill="#2f2fff" stroke="#2f2fff" stroke-width="0.4">40</text>
<text x="1344.78" y="1193.64" font-size="24.00" textLength="26.70" lengthAdjust="spacingAndGlyphs" fill="#2f2fff" stroke="#2f2fff" stroke-width="0.4">60</text>
<text x="1344.96" y="1106.18" font-size="24.00" textLength="26.70" lengthAdjust="spacingAndGlyphs" fill="#2f2fff" stroke="#2f2fff" stroke-width="0.4">80</text>
<text x="1344.17" y="1018.72" font-size="24.00" textLength="40.04" lengthAdjust="spacingAndGlyphs" fill="#2f2fff" stroke="#2f2fff" stroke-width="0.4">100</text>
<path d="M1315.4 1447.5H1330.4M1315.4 1360.0H1330.4M1315.4 1272.6H1330.4M1315.4 1185.1H1330.4M1315.4 1097.7H1330.4M1315.4 1010.2H1330.4" stroke="#2f2fff" stroke-width="1.2"/>
<text transform="translate(94.0,1230.3) rotate(-90)" font-size="24.8" fill="#333333" stroke="#333333" stroke-width="0.4" text-anchor="middle" textLength="155.0" lengthAdjust="spacingAndGlyphs">&#8722;log<tspan font-size="15.1" dy="4.2">10</tspan><tspan dy="-4.2">(p&#8722;value)</tspan></text>
<text transform="translate(1393.3,1229.0) rotate(90)" font-size="25.5" fill="#2f2fff" stroke="#2f2fff" stroke-width="0.4" text-anchor="middle" textLength="278.5" lengthAdjust="spacingAndGlyphs">Recombination rate (cM/Mb)</text>
<rect x="185.0" y="1000.5" width="96.69999999999999" height="215.29999999999995" fill="#fff" stroke="#555" stroke-width="1.2"/>
<rect x="198.3" y="1038.0" width="23.0" height="33.6" fill="#FF0000" stroke="#444" stroke-width="0.8"/>
<rect x="198.3" y="1071.6" width="23.0" height="33.0" fill="#FFA500" stroke="#444" stroke-width="0.8"/>
<rect x="198.3" y="1104.6" width="23.0" height="33.6" fill="#00FF00" stroke="#444" stroke-width="0.8"/>
<rect x="198.3" y="1138.2" width="23.0" height="33.0" fill="#87CEFA" stroke="#444" stroke-width="0.8"/>
<rect x="198.3" y="1171.2" width="23.0" height="34.5" fill="#000080" stroke="#444" stroke-width="0.8"/>
<text x="239.49" y="1077.49" font-size="16.60" textLength="28.70" lengthAdjust="spacingAndGlyphs" fill="#555" stroke="#555" stroke-width="0.4" style="" >0.8</text>
<text x="239.49" y="1110.49" font-size="16.60" textLength="28.71" lengthAdjust="spacingAndGlyphs" fill="#555" stroke="#555" stroke-width="0.4" style="" >0.6</text>
<text x="239.50" y="1144.09" font-size="16.60" textLength="28.40" lengthAdjust="spacingAndGlyphs" fill="#555" stroke="#555" stroke-width="0.4" style="" >0.4</text>
<text x="239.49" y="1177.09" font-size="16.60" textLength="28.85" lengthAdjust="spacingAndGlyphs" fill="#555" stroke="#555" stroke-width="0.4" style="" >0.2</text>
<path d="M221.3 1071.6H233.8M221.3 1104.6H233.8M221.3 1138.2H233.8M221.3 1171.2H233.8" stroke="#444" stroke-width="1.2"/>
<text x="223.46" y="1030.00" font-size="22.00" textLength="7.73" lengthAdjust="spacingAndGlyphs" fill="#555" stroke="#555" stroke-width="0.4" style="" >r</text>
<text x="231.58" y="1020.00" font-size="15.20" textLength="10.13" lengthAdjust="spacingAndGlyphs" fill="#555" stroke="#555" stroke-width="0.4" style="" >2</text>
<rect x="173.1" y="1496.4" width="1142.9" height="171.69999999999982" fill="none" stroke="#555" stroke-width="1.2"/>
<text x="204.59" y="1519.90" font-size="19.30" textLength="140.10" lengthAdjust="spacingAndGlyphs" fill="#111" stroke="#111" stroke-width="0.4" style="font-style:italic;" >LOC101928442</text><path d="M201.1 1513.0H182.9M192.1 1509.7L182.9 1513.0L192.1 1516.3" stroke="#111" stroke-width="1.6" fill="none" stroke-linejoin="miter" stroke-miterlimit="8"/><path d="M173.1 1527.6H189.2" stroke="#000080" stroke-width="1.1"/><rect x="188.4" y="1524.4" width="1.2" height="6.4" fill="#000080"/><text x="409.74" y="1519.90" font-size="19.30" textLength="85.22" lengthAdjust="spacingAndGlyphs" fill="#111" stroke="#111" stroke-width="0.4" style="font-style:italic;" >SLC24A5</text><path d="M497.4 1513.0H515.6M506.4 1509.7L515.6 1513.0L506.4 1516.3" stroke="#111" stroke-width="1.6" fill="none" stroke-linejoin="miter" stroke-miterlimit="8"/><path d="M451.6 1527.6H472.9" stroke="#000080" stroke-width="1.1"/><rect x="451.6" y="1524.4" width="1.2" height="6.4" fill="#000080"/><rect x="458.0" y="1524.4" width="1.2" height="6.4" fill="#000080"/><rect x="464.0" y="1524.4" width="1.2" height="6.4" fill="#000080"/><rect x="466.5" y="1524.4" width="6.4" height="6.4" fill="#000080"/><text x="627.81" y="1519.90" font-size="19.30" textLength="39.55" lengthAdjust="spacingAndGlyphs" fill="#111" stroke="#111" stroke-width="0.4" style="font-style:italic;" >DUT</text><path d="M670.9 1513.0H689.1M679.9 1509.7L689.1 1513.0L679.9 1516.3" stroke="#111" stroke-width="1.6" fill="none" stroke-linejoin="miter" stroke-miterlimit="8"/><path d="M652.0 1527.6H663.3" stroke="#000080" stroke-width="1.1"/><rect x="652.0" y="1524.4" width="2.0" height="6.4" fill="#000080"/><rect x="655.5" y="1524.4" width="1.5" height="6.4" fill="#000080"/><rect x="658.0" y="1524.4" width="1.5" height="6.4" fill="#000080"/><rect x="661.5" y="1524.4" width="1.8" height="6.4" fill="#000080"/><text x="823.47" y="1519.90" font-size="19.30" textLength="52.26" lengthAdjust="spacingAndGlyphs" fill="#111" stroke="#111" stroke-width="0.4" style="font-style:italic;" >FBN1</text><path d="M820.0 1513.0H801.8M811.0 1509.7L801.8 1513.0L811.0 1516.3" stroke="#111" stroke-width="1.6" fill="none" stroke-linejoin="miter" stroke-miterlimit="8"/><path d="M725.1 1527.6H952.0" stroke="#000080" stroke-width="1.1"/><rect x="725.1" y="1524.4" width="2.9" height="6.4" fill="#000080"/><rect x="730.0" y="1524.4" width="1.2" height="6.4" fill="#000080"/><rect x="733.0" y="1524.4" width="1.2" height="6.4" fill="#000080"/><rect x="736.0" y="1524.4" width="3.0" height="6.4" fill="#000080"/><rect x="741.0" y="1524.4" width="1.2" height="6.4" fill="#000080"/><rect x="744.0" y="1524.4" width="3.0" height="6.4" fill="#000080"/><rect x="749.0" y="1524.4" width="1.2" height="6.4" fill="#000080"/><rect x="752.0" y="1524.4" width="1.2" height="6.4" fill="#000080"/><rect x="755.0" y="1524.4" width="3.0" height="6.4" fill="#000080"/><rect x="760.0" y="1524.4" width="1.2" height="6.4" fill="#000080"/><rect x="763.0" y="1524.4" width="1.5" height="6.4" fill="#000080"/><rect x="766.0" y="1524.4" width="3.0" height="6.4" fill="#000080"/><rect x="771.0" y="1524.4" width="1.2" height="6.4" fill="#000080"/><rect x="774.0" y="1524.4" width="1.2" height="6.4" fill="#000080"/><rect x="777.0" y="1524.4" width="2.0" height="6.4" fill="#000080"/><rect x="781.0" y="1524.4" width="1.2" height="6.4" fill="#000080"/><rect x="784.0" y="1524.4" width="7.0" height="6.4" fill="#000080"/><rect x="793.0" y="1524.4" width="1.2" height="6.4" fill="#000080"/><rect x="796.0" y="1524.4" width="3.0" height="6.4" fill="#000080"/><rect x="801.0" y="1524.4" width="1.2" height="6.4" fill="#000080"/><rect x="804.0" y="1524.4" width="2.0" height="6.4" fill="#000080"/><rect x="808.0" y="1524.4" width="1.2" height="6.4" fill="#000080"/><rect x="811.0" y="1524.4" width="2.0" height="6.4" fill="#000080"/><rect x="815.0" y="1524.4" width="1.2" height="6.4" fill="#000080"/><rect x="820.0" y="1524.4" width="1.2" height="6.4" fill="#000080"/><rect x="824.0" y="1524.4" width="1.5" height="6.4" fill="#000080"/><rect x="828.0" y="1524.4" width="1.2" height="6.4" fill="#000080"/><rect x="833.0" y="1524.4" width="1.2" height="6.4" fill="#000080"/><rect x="847.0" y="1524.4" width="1.5" height="6.4" fill="#000080"/><rect x="904.0" y="1524.4" width="1.5" height="6.4" fill="#000080"/><rect x="908.0" y="1524.4" width="1.5" height="6.4" fill="#000080"/><rect x="917.0" y="1524.4" width="1.5" height="6.4" fill="#000080"/><rect x="950.5" y="1524.4" width="1.5" height="6.4" fill="#000080"/><text x="1047.19" y="1519.90" font-size="19.30" textLength="75.11" lengthAdjust="spacingAndGlyphs" fill="#111" stroke="#111" stroke-width="0.4" style="font-style:italic;" >CEP152</text><path d="M1044.2 1513.0H1026.0M1035.2 1509.7L1026.0 1513.0L1035.2 1516.3" stroke="#111" stroke-width="1.6" fill="none" stroke-linejoin="miter" stroke-miterlimit="8"/><path d="M1038.6 1527.6H1108.5" stroke="#000080" stroke-width="1.1"/><rect x="1038.6" y="1524.4" width="1.4" height="6.4" fill="#000080"/><rect x="1041.5" y="1524.4" width="1.5" height="6.4" fill="#000080"/><rect x="1044.5" y="1524.4" width="1.5" height="6.4" fill="#000080"/><rect x="1047.5" y="1524.4" width="1.5" height="6.4" fill="#000080"/><rect x="1050.5" y="1524.4" width="1.5" height="6.4" fill="#000080"/><rect x="1053.5" y="1524.4" width="1.5" height="6.4" fill="#000080"/><rect x="1056.5" y="1524.4" width="1.5" height="6.4" fill="#000080"/><rect x="1060.0" y="1524.4" width="3.0" height="6.4" fill="#000080"/><rect x="1066.0" y="1524.4" width="1.5" height="6.4" fill="#000080"/><rect x="1069.0" y="1524.4" width="3.0" height="6.4" fill="#000080"/><rect x="1074.0" y="1524.4" width="2.0" height="6.4" fill="#000080"/><rect x="1078.0" y="1524.4" width="1.5" height="6.4" fill="#000080"/><rect x="1081.0" y="1524.4" width="1.5" height="6.4" fill="#000080"/><rect x="1086.0" y="1524.4" width="1.5" height="6.4" fill="#000080"/><rect x="1090.0" y="1524.4" width="1.5" height="6.4" fill="#000080"/><rect x="1094.0" y="1524.4" width="1.2" height="6.4" fill="#000080"/><rect x="1098.0" y="1524.4" width="1.5" height="6.4" fill="#000080"/><rect x="1107.0" y="1524.4" width="1.5" height="6.4" fill="#000080"/><text x="1198.83" y="1519.90" font-size="19.30" textLength="109.57" lengthAdjust="spacingAndGlyphs" fill="#111" stroke="#111" stroke-width="0.4" style="font-style:italic;" >SECISBP2L</text><path d="M1195.3 1513.0H1177.1M1186.3 1509.7L1177.1 1513.0L1186.3 1516.3" stroke="#111" stroke-width="1.6" fill="none" stroke-linejoin="miter" stroke-miterlimit="8"/><path d="M1277.7 1527.6H1316.0" stroke="#000080" stroke-width="1.1"/><rect x="1277.7" y="1524.4" width="2.3" height="6.4" fill="#000080"/><rect x="1282.0" y="1524.4" width="1.5" height="6.4" fill="#000080"/><rect x="1286.0" y="1524.4" width="1.5" height="6.4" fill="#000080"/><rect x="1292.0" y="1524.4" width="1.5" height="6.4" fill="#000080"/><rect x="1295.0" y="1524.4" width="2.0" height="6.4" fill="#000080"/><rect x="1299.0" y="1524.4" width="1.5" height="6.4" fill="#000080"/><rect x="1304.0" y="1524.4" width="1.5" height="6.4" fill="#000080"/><rect x="1309.0" y="1524.4" width="1.5" height="6.4" fill="#000080"/><rect x="1314.0" y="1524.4" width="1.5" height="6.4" fill="#000080"/><text x="465.09" y="1562.90" font-size="19.30" textLength="66.20" lengthAdjust="spacingAndGlyphs" fill="#111" stroke="#111" stroke-width="0.4" style="font-style:italic;" >MYEF2</text><path d="M461.6 1556.0H443.4M452.6 1552.7L443.4 1556.0L452.6 1559.3" stroke="#111" stroke-width="1.6" fill="none" stroke-linejoin="miter" stroke-miterlimit="8"/><path d="M469.2 1570.6H507.8" stroke="#000080" stroke-width="1.1"/><rect x="469.2" y="1567.4" width="2.8" height="6.4" fill="#000080"/><rect x="474.0" y="1567.4" width="4.0" height="6.4" fill="#000080"/><rect x="480.0" y="1567.4" width="2.0" height="6.4" fill="#000080"/><rect x="484.0" y="1567.4" width="2.0" height="6.4" fill="#000080"/><rect x="490.0" y="1567.4" width="2.0" height="6.4" fill="#000080"/><rect x="497.0" y="1567.4" width="2.0" height="6.4" fill="#000080"/><rect x="506.3" y="1567.4" width="1.5" height="6.4" fill="#000080"/><text x="1171.83" y="1562.90" font-size="19.30" textLength="53.42" lengthAdjust="spacingAndGlyphs" fill="#111" stroke="#111" stroke-width="0.4" style="font-style:italic;" >SHC4</text><path d="M1168.3 1556.0H1150.1M1159.3 1552.7L1150.1 1556.0L1159.3 1559.3" stroke="#111" stroke-width="1.6" fill="none" stroke-linejoin="miter" stroke-miterlimit="8"/><path d="M1121.2 1570.6H1254.2" stroke="#000080" stroke-width="1.1"/><rect x="1121.2" y="1567.4" width="2.3" height="6.4" fill="#000080"/><rect x="1127.0" y="1567.4" width="1.2" height="6.4" fill="#000080"/><rect x="1132.0" y="1567.4" width="1.2" height="6.4" fill="#000080"/><rect x="1137.0" y="1567.4" width="1.2" height="6.4" fill="#000080"/><rect x="1142.0" y="1567.4" width="2.0" height="6.4" fill="#000080"/><rect x="1150.0" y="1567.4" width="1.2" height="6.4" fill="#000080"/><rect x="1154.0" y="1567.4" width="1.2" height="6.4" fill="#000080"/><rect x="1162.0" y="1567.4" width="1.2" height="6.4" fill="#000080"/><rect x="1167.0" y="1567.4" width="1.2" height="6.4" fill="#000080"/><rect x="1188.0" y="1567.4" width="1.2" height="6.4" fill="#000080"/><rect x="1252.7" y="1567.4" width="1.5" height="6.4" fill="#000080"/><text x="481.88" y="1605.90" font-size="19.30" textLength="66.62" lengthAdjust="spacingAndGlyphs" fill="#111" stroke="#111" stroke-width="0.4" style="font-style:italic;" >CTXN2</text><path d="M550.6 1599.0H568.8M559.6 1595.7L568.8 1599.0L559.6 1602.3" stroke="#111" stroke-width="1.6" fill="none" stroke-linejoin="miter" stroke-miterlimit="8"/><path d="M518.6 1613.6H531.7" stroke="#000080" stroke-width="1.1"/><rect x="518.6" y="1610.4" width="1.2" height="6.4" fill="#000080"/><rect x="528.5" y="1610.4" width="3.2" height="6.4" fill="#000080"/><text x="1141.77" y="1605.90" font-size="19.30" textLength="45.77" lengthAdjust="spacingAndGlyphs" fill="#111" stroke="#111" stroke-width="0.4" style="font-style:italic;" >EID1</text><path d="M1188.2 1599.0H1206.4M1197.2 1595.7L1206.4 1599.0L1197.2 1602.3" stroke="#111" stroke-width="1.6" fill="none" stroke-linejoin="miter" stroke-miterlimit="8"/><rect x="1173.0" y="1610.4" width="2.5" height="6.4" fill="#000080"/><text x="527.83" y="1649.00" font-size="19.30" textLength="86.17" lengthAdjust="spacingAndGlyphs" fill="#111" stroke="#111" stroke-width="0.4" style="font-style:italic;" >SLC12A1</text><path d="M614.7 1642.1H632.9M623.7 1638.8L632.9 1642.1L623.7 1645.4" stroke="#111" stroke-width="1.6" fill="none" stroke-linejoin="miter" stroke-miterlimit="8"/><path d="M533.6 1656.7H626.6" stroke="#000080" stroke-width="1.1"/><rect x="533.6" y="1653.5" width="1.4" height="6.4" fill="#000080"/><rect x="540.0" y="1653.5" width="1.2" height="6.4" fill="#000080"/><rect x="545.0" y="1653.5" width="1.2" height="6.4" fill="#000080"/><rect x="549.0" y="1653.5" width="1.2" height="6.4" fill="#000080"/><rect x="551.5" y="1653.5" width="3.5" height="6.4" fill="#000080"/><rect x="559.0" y="1653.5" width="1.2" height="6.4" fill="#000080"/><rect x="562.0" y="1653.5" width="1.2" height="6.4" fill="#000080"/><rect x="565.0" y="1653.5" width="1.2" height="6.4" fill="#000080"/><rect x="568.0" y="1653.5" width="1.2" height="6.4" fill="#000080"/><rect x="571.0" y="1653.5" width="1.2" height="6.4" fill="#000080"/><rect x="575.0" y="1653.5" width="1.2" height="6.4" fill="#000080"/><rect x="581.0" y="1653.5" width="1.2" height="6.4" fill="#000080"/><rect x="586.0" y="1653.5" width="1.2" height="6.4" fill="#000080"/><rect x="593.0" y="1653.5" width="1.2" height="6.4" fill="#000080"/><rect x="598.0" y="1653.5" width="1.2" height="6.4" fill="#000080"/><rect x="603.0" y="1653.5" width="1.2" height="6.4" fill="#000080"/><rect x="607.0" y="1653.5" width="1.2" height="6.4" fill="#000080"/><rect x="624.0" y="1653.5" width="2.6" height="6.4" fill="#000080"/>
<text x="225.48" y="1718.00" font-size="22.50" textLength="46.64" lengthAdjust="spacingAndGlyphs" fill="#333333" stroke="#333333" stroke-width="0.4" style="">48.2</text>
<text x="416.08" y="1718.00" font-size="22.50" textLength="46.64" lengthAdjust="spacingAndGlyphs" fill="#333333" stroke="#333333" stroke-width="0.4" style="">48.4</text>
<text x="606.68" y="1718.00" font-size="22.50" textLength="46.64" lengthAdjust="spacingAndGlyphs" fill="#333333" stroke="#333333" stroke-width="0.4" style="">48.6</text>
<text x="797.28" y="1718.00" font-size="22.50" textLength="46.64" lengthAdjust="spacingAndGlyphs" fill="#333333" stroke="#333333" stroke-width="0.4" style="">48.8</text>
<text x="997.87" y="1718.00" font-size="22.50" textLength="26.65" lengthAdjust="spacingAndGlyphs" fill="#333333" stroke="#333333" stroke-width="0.4" style="">49</text>
<text x="1178.48" y="1718.00" font-size="22.50" textLength="46.64" lengthAdjust="spacingAndGlyphs" fill="#333333" stroke="#333333" stroke-width="0.4" style="">49.2</text>
<path d="M248.8 1668.1V1682.6M439.4 1668.1V1682.6M630.0 1668.1V1682.6M820.6 1668.1V1682.6M1011.2 1668.1V1682.6M1201.8 1668.1V1682.6" stroke="#555" stroke-width="1.2"/>
<text x="624.64" y="1749.00" font-size="23.30" textLength="240.44" lengthAdjust="spacingAndGlyphs" fill="#333333" stroke="#333333" stroke-width="0.4" style="" >Position on chr15 (Mb)</text>
<text x="634.11" y="1805.50" font-size="44.30" textLength="217.49" lengthAdjust="spacingAndGlyphs" fill="#000" stroke="#000" stroke-width="0.4" style="" >ABHD17C</text>
<text x="43.83" y="1847.00" font-size="19.10" textLength="128.66" lengthAdjust="spacingAndGlyphs" fill="#333333" stroke="#333333" stroke-width="0.4" style="" >Plotted SNPs</text>
<path d="M182.5 1830.5V1849.2M184.5 1830.5V1849.2M185.5 1830.5V1849.2M188.5 1830.5V1849.2M189.5 1830.5V1849.2M194.5 1830.5V1849.2M198.5 1830.5V1849.2M199.5 1830.5V1849.2M216.5 1830.5V1849.2M226.5 1830.5V1849.2M232.5 1830.5V1849.2M234.5 1830.5V1849.2M238.5 1830.5V1849.2M246.5 1830.5V1849.2M249.5 1830.5V1849.2M250.5 1830.5V1849.2M252.5 1830.5V1849.2M256.5 1830.5V1849.2M259.5 1830.5V1849.2M262.5 1830.5V1849.2M268.5 1830.5V1849.2M270.5 1830.5V1849.2M275.5 1830.5V1849.2M283.5 1830.5V1849.2M285.5 1830.5V1849.2M287.5 1830.5V1849.2M293.5 1830.5V1849.2M299.5 1830.5V1849.2M300.5 1830.5V1849.2M302.5 1830.5V1849.2M304.5 1830.5V1849.2M315.5 1830.5V1849.2M322.5 1830.5V1849.2M324.5 1830.5V1849.2M325.5 1830.5V1849.2M326.5 1830.5V1849.2M327.5 1830.5V1849.2M328.5 1830.5V1849.2M342.5 1830.5V1849.2M344.5 1830.5V1849.2M354.5 1830.5V1849.2M357.5 1830.5V1849.2M362.5 1830.5V1849.2M366.5 1830.5V1849.2M369.5 1830.5V1849.2M379.5 1830.5V1849.2M381.5 1830.5V1849.2M386.5 1830.5V1849.2M395.5 1830.5V1849.2M396.5 1830.5V1849.2M397.5 1830.5V1849.2M398.5 1830.5V1849.2M399.5 1830.5V1849.2M405.5 1830.5V1849.2M409.5 1830.5V1849.2M411.5 1830.5V1849.2M413.5 1830.5V1849.2M414.5 1830.5V1849.2M419.5 1830.5V1849.2M420.5 1830.5V1849.2M423.5 1830.5V1849.2M425.5 1830.5V1849.2M427.5 1830.5V1849.2M429.5 1830.5V1849.2M431.5 1830.5V1849.2M439.5 1830.5V1849.2M443.5 1830.5V1849.2M448.5 1830.5V1849.2M454.5 1830.5V1849.2M460.5 1830.5V1849.2M461.5 1830.5V1849.2M465.5 1830.5V1849.2M478.5 1830.5V1849.2M479.5 1830.5V1849.2M480.5 1830.5V1849.2M482.5 1830.5V1849.2M495.5 1830.5V1849.2M498.5 1830.5V1849.2M500.5 1830.5V1849.2M501.5 1830.5V1849.2M504.5 1830.5V1849.2M517.5 1830.5V1849.2M530.5 1830.5V1849.2M535.5 1830.5V1849.2M543.5 1830.5V1849.2M554.5 1830.5V1849.2M566.5 1830.5V1849.2M571.5 1830.5V1849.2M573.5 1830.5V1849.2M574.5 1830.5V1849.2M578.5 1830.5V1849.2M584.5 1830.5V1849.2M589.5 1830.5V1849.2M591.5 1830.5V1849.2M600.5 1830.5V1849.2M602.5 1830.5V1849.2M604.5 1830.5V1849.2M607.5 1830.5V1849.2M624.5 1830.5V1849.2M626.5 1830.5V1849.2M630.5 1830.5V1849.2M638.5 1830.5V1849.2M652.5 1830.5V1849.2M654.5 1830.5V1849.2M658.5 1830.5V1849.2M682.5 1830.5V1849.2M696.5 1830.5V1849.2M710.5 1830.5V1849.2M713.5 1830.5V1849.2M722.5 1830.5V1849.2M724.5 1830.5V1849.2M726.5 1830.5V1849.2M728.5 1830.5V1849.2M731.5 1830.5V1849.2M736.5 1830.5V1849.2M738.5 1830.5V1849.2M742.5 1830.5V1849.2M743.5 1830.5V1849.2M745.5 1830.5V1849.2M747.5 1830.5V1849.2M749.5 1830.5V1849.2M751.5 1830.5V1849.2M753.5 1830.5V1849.2M763.5 1830.5V1849.2M770.5 1830.5V1849.2M783.5 1830.5V1849.2M784.5 1830.5V1849.2M787.5 1830.5V1849.2M789.5 1830.5V1849.2M791.5 1830.5V1849.2M793.5 1830.5V1849.2M797.5 1830.5V1849.2M802.5 1830.5V1849.2M808.5 1830.5V1849.2M813.5 1830.5V1849.2M815.5 1830.5V1849.2M816.5 1830.5V1849.2M818.5 1830.5V1849.2M822.5 1830.5V1849.2M826.5 1830.5V1849.2M828.5 1830.5V1849.2M829.5 1830.5V1849.2M832.5 1830.5V1849.2M835.5 1830.5V1849.2M838.5 1830.5V1849.2M840.5 1830.5V1849.2M841.5 1830.5V1849.2M842.5 1830.5V1849.2M843.5 1830.5V1849.2M844.5 1830.5V1849.2M845.5 1830.5V1849.2M854.5 1830.5V1849.2M861.5 1830.5V1849.2M865.5 1830.5V1849.2M866.5 1830.5V1849.2M871.5 1830.5V1849.2M873.5 1830.5V1849.2M879.5 1830.5V1849.2M881.5 1830.5V1849.2M892.5 1830.5V1849.2M902.5 1830.5V1849.2M908.5 1830.5V1849.2M913.5 1830.5V1849.2M914.5 1830.5V1849.2M916.5 1830.5V1849.2M920.5 1830.5V1849.2M931.5 1830.5V1849.2M933.5 1830.5V1849.2M937.5 1830.5V1849.2M938.5 1830.5V1849.2M942.5 1830.5V1849.2M945.5 1830.5V1849.2M948.5 1830.5V1849.2M956.5 1830.5V1849.2M967.5 1830.5V1849.2M973.5 1830.5V1849.2M974.5 1830.5V1849.2M977.5 1830.5V1849.2M987.5 1830.5V1849.2M1002.5 1830.5V1849.2M1024.5 1830.5V1849.2M1035.5 1830.5V1849.2M1036.5 1830.5V1849.2M1038.5 1830.5V1849.2M1046.5 1830.5V1849.2M1054.5 1830.5V1849.2M1068.5 1830.5V1849.2M1074.5 1830.5V1849.2M1100.5 1830.5V1849.2M1102.5 1830.5V1849.2M1104.5 1830.5V1849.2M1105.5 1830.5V1849.2M1107.5 1830.5V1849.2M1114.5 1830.5V1849.2M1115.5 1830.5V1849.2M1119.5 1830.5V1849.2M1129.5 1830.5V1849.2M1133.5 1830.5V1849.2M1134.5 1830.5V1849.2M1138.5 1830.5V1849.2M1146.5 1830.5V1849.2M1152.5 1830.5V1849.2M1161.5 1830.5V1849.2M1163.5 1830.5V1849.2M1172.5 1830.5V1849.2M1182.5 1830.5V1849.2M1189.5 1830.5V1849.2M1194.5 1830.5V1849.2M1205.5 1830.5V1849.2M1218.5 1830.5V1849.2M1237.5 1830.5V1849.2M1243.5 1830.5V1849.2M1248.5 1830.5V1849.2M1269.5 1830.5V1849.2M1283.5 1830.5V1849.2M1294.5 1830.5V1849.2M1304.5 1830.5V1849.2" stroke="#3c3c3c" stroke-width="1.6" fill="none"/>
<clipPath id="c3"><rect x="178.3" y="1877.2" width="1128.5" height="444.29999999999995"/></clipPath>
<g clip-path="url(#c3)">
<polyline points="175.0,2299.5 183.0,2299.5 184.6,2292.0 186.0,2299.5 210.0,2299.5 211.6,2281.0 213.0,2299.5 249.0,2299.5 250.2,2255.0 251.5,2299.5 261.5,2299.5 262.6,2280.0 263.8,2299.5 267.8,2299.5 268.9,2280.0 270.0,2299.5 305.8,2299.5 307.4,2234.0 309.5,2236.0 311.6,2234.0 313.0,2299.5 321.8,2299.5 323.2,2160.0 324.1,2133.0 325.2,2160.0 326.6,2299.5 410.2,2299.5 411.5,2264.0 412.8,2299.5 418.7,2299.5 419.9,2232.0 421.1,2299.5 431.2,2299.5 432.3,2276.0 433.4,2299.5 479.6,2299.5 480.8,2268.0 482.0,2299.5 561.9,2299.5 563.1,2258.0 564.3,2299.5 572.4,2299.5 573.5,2176.0 574.8,2299.5 618.0,2299.5 620.3,2282.0 622.5,2299.5 639.0,2299.5 641.0,2295.5 643.0,2299.5 702.4,2299.5 703.6,2226.0 706.0,2230.0 708.2,2233.0 709.5,2299.5 817.5,2299.5 818.8,2269.0 820.0,2299.5 826.8,2299.5 827.5,2209.0 829.6,2205.0 831.7,2209.0 832.4,2290.0 845.0,2290.0 845.8,2227.0 846.6,2227.0 852.5,2281.0 853.5,2299.5 874.5,2299.5 877.5,2200.0 880.0,2152.5 882.5,2200.0 884.5,2299.5 924.7,2299.5 925.9,2191.4 927.1,2299.5 937.5,2299.5 938.4,2252.4 946.8,2252.4 953.0,2280.0 954.0,2299.5 976.6,2299.5 978.0,2142.5 979.4,2299.5 1042.4,2299.5 1043.6,2237.2 1044.8,2299.5 1089.2,2299.5 1090.4,2260.1 1094.0,2262.0 1097.7,2265.3 1099.0,2299.5 1104.8,2299.5 1107.0,2092.5 1109.2,2299.5 1133.0,2299.5 1134.1,2266.3 1135.2,2299.5 1212.5,2299.5 1218.2,2190.7 1221.4,2299.5 1251.5,2299.5 1254.4,2266.8 1260.3,2297.5 1266.2,2293.3 1269.2,2299.5 1282.0,2299.5 1284.0,2295.5 1286.0,2299.5 1312.0,2299.5" fill="none" stroke="#2f2fff" stroke-width="2.7" stroke-linejoin="round"/>
<g stroke="#2a2a2a" stroke-width="1.1"><ellipse cx="185.6" cy="2214.3" rx="8.05" ry="6.95" fill="#000080"/><ellipse cx="225.2" cy="2251.8" rx="8.05" ry="6.95" fill="#000080"/><ellipse cx="238.3" cy="2253.8" rx="8.05" ry="6.95" fill="#000080"/><ellipse cx="250.2" cy="2268.4" rx="8.05" ry="6.95" fill="#000080"/><ellipse cx="182.5" cy="2286.1" rx="8.05" ry="6.95" fill="#000080"/><ellipse cx="188.7" cy="2286.1" rx="8.05" ry="6.95" fill="#000080"/><ellipse cx="199.1" cy="2292.4" rx="8.05" ry="6.95" fill="#000080"/><ellipse cx="198.1" cy="2298.6" rx="8.05" ry="6.95" fill="#000080"/><ellipse cx="214.8" cy="2294.5" rx="8.05" ry="6.95" fill="#000080"/><ellipse cx="225.2" cy="2288.2" rx="8.05" ry="6.95" fill="#000080"/><ellipse cx="226.2" cy="2294.5" rx="8.05" ry="6.95" fill="#000080"/><ellipse cx="232.5" cy="2300.7" rx="8.05" ry="6.95" fill="#000080"/><ellipse cx="238.7" cy="2282.0" rx="8.05" ry="6.95" fill="#000080"/><ellipse cx="236.6" cy="2290.3" rx="8.05" ry="6.95" fill="#000080"/><ellipse cx="246.0" cy="2280.9" rx="8.05" ry="6.95" fill="#000080"/><ellipse cx="245.0" cy="2292.4" rx="8.05" ry="6.95" fill="#000080"/><ellipse cx="253.3" cy="2286.1" rx="8.05" ry="6.95" fill="#000080"/><ellipse cx="257.4" cy="2292.4" rx="8.05" ry="6.95" fill="#000080"/><ellipse cx="261.6" cy="2294.5" rx="8.05" ry="6.95" fill="#000080"/><ellipse cx="267.9" cy="2300.7" rx="8.05" ry="6.95" fill="#000080"/><ellipse cx="276.2" cy="2273.6" rx="8.05" ry="6.95" fill="#000080"/><ellipse cx="286.6" cy="2277.8" rx="8.05" ry="6.95" fill="#000080"/><ellipse cx="288.7" cy="2282.0" rx="8.05" ry="6.95" fill="#000080"/><ellipse cx="284.5" cy="2296.5" rx="8.05" ry="6.95" fill="#000080"/><ellipse cx="294.9" cy="2294.5" rx="8.05" ry="6.95" fill="#000080"/><ellipse cx="303.2" cy="2298.6" rx="8.05" ry="6.95" fill="#000080"/><ellipse cx="299.1" cy="2290.3" rx="8.05" ry="6.95" fill="#000080"/><ellipse cx="313.7" cy="2278.8" rx="8.05" ry="6.95" fill="#000080"/><ellipse cx="323.0" cy="2274.7" rx="8.05" ry="6.95" fill="#000080"/><ellipse cx="328.2" cy="2279.9" rx="8.05" ry="6.95" fill="#000080"/><ellipse cx="325.1" cy="2288.2" rx="8.05" ry="6.95" fill="#000080"/><ellipse cx="323.0" cy="2296.5" rx="8.05" ry="6.95" fill="#000080"/><ellipse cx="328.2" cy="2300.7" rx="8.05" ry="6.95" fill="#000080"/><ellipse cx="341.8" cy="2267.4" rx="8.05" ry="6.95" fill="#000080"/><ellipse cx="343.8" cy="2280.9" rx="8.05" ry="6.95" fill="#000080"/><ellipse cx="354.3" cy="2277.8" rx="8.05" ry="6.95" fill="#000080"/><ellipse cx="343.8" cy="2299.7" rx="8.05" ry="6.95" fill="#000080"/><ellipse cx="357.4" cy="2290.3" rx="8.05" ry="6.95" fill="#000080"/><ellipse cx="363.6" cy="2296.5" rx="8.05" ry="6.95" fill="#000080"/><ellipse cx="367.8" cy="2300.7" rx="8.05" ry="6.95" fill="#000080"/><ellipse cx="380.3" cy="2287.2" rx="8.05" ry="6.95" fill="#000080"/><ellipse cx="385.5" cy="2288.2" rx="8.05" ry="6.95" fill="#000080"/><ellipse cx="394.9" cy="2272.6" rx="8.05" ry="6.95" fill="#000080"/><ellipse cx="399.0" cy="2283.0" rx="8.05" ry="6.95" fill="#000080"/><ellipse cx="385.5" cy="2298.6" rx="8.05" ry="6.95" fill="#000080"/><ellipse cx="403.2" cy="2296.5" rx="8.05" ry="6.95" fill="#000080"/><ellipse cx="415.7" cy="2288.2" rx="8.05" ry="6.95" fill="#000080"/><ellipse cx="419.9" cy="2270.5" rx="8.05" ry="6.95" fill="#000080"/><ellipse cx="419.9" cy="2296.5" rx="8.05" ry="6.95" fill="#000080"/><ellipse cx="428.2" cy="2290.3" rx="8.05" ry="6.95" fill="#000080"/><ellipse cx="430.2" cy="2298.6" rx="8.05" ry="6.95" fill="#000080"/><ellipse cx="440.7" cy="2282.0" rx="8.05" ry="6.95" fill="#000080"/><ellipse cx="449.0" cy="2286.1" rx="8.05" ry="6.95" fill="#000080"/><ellipse cx="454.2" cy="2264.3" rx="8.05" ry="6.95" fill="#000080"/><ellipse cx="461.5" cy="2273.6" rx="8.05" ry="6.95" fill="#000080"/><ellipse cx="460.4" cy="2286.1" rx="8.05" ry="6.95" fill="#000080"/><ellipse cx="449.0" cy="2298.6" rx="8.05" ry="6.95" fill="#000080"/><ellipse cx="464.6" cy="2297.6" rx="8.05" ry="6.95" fill="#000080"/><ellipse cx="479.8" cy="2279.9" rx="8.05" ry="6.95" fill="#000080"/><ellipse cx="480.8" cy="2291.3" rx="8.05" ry="6.95" fill="#000080"/><ellipse cx="480.8" cy="2299.7" rx="8.05" ry="6.95" fill="#000080"/><ellipse cx="494.4" cy="2291.3" rx="8.05" ry="6.95" fill="#000080"/><ellipse cx="500.6" cy="2298.6" rx="8.05" ry="6.95" fill="#000080"/><ellipse cx="504.8" cy="2292.4" rx="8.05" ry="6.95" fill="#000080"/><ellipse cx="517.3" cy="2293.4" rx="8.05" ry="6.95" fill="#000080"/><ellipse cx="530.8" cy="2291.3" rx="8.05" ry="6.95" fill="#000080"/><ellipse cx="533.9" cy="2298.6" rx="8.05" ry="6.95" fill="#000080"/><ellipse cx="543.3" cy="2299.7" rx="8.05" ry="6.95" fill="#000080"/><ellipse cx="552.7" cy="2296.5" rx="8.05" ry="6.95" fill="#000080"/><ellipse cx="568.3" cy="2294.5" rx="8.05" ry="6.95" fill="#000080"/><ellipse cx="573.5" cy="2289.2" rx="8.05" ry="6.95" fill="#000080"/><ellipse cx="575.6" cy="2297.6" rx="8.05" ry="6.95" fill="#000080"/><ellipse cx="582.8" cy="2300.7" rx="8.05" ry="6.95" fill="#000080"/><ellipse cx="587.0" cy="2300.7" rx="8.05" ry="6.95" fill="#000080"/><ellipse cx="591.2" cy="2293.4" rx="8.05" ry="6.95" fill="#000080"/><ellipse cx="595.3" cy="2297.6" rx="8.05" ry="6.95" fill="#000080"/><ellipse cx="603.7" cy="2284.0" rx="8.05" ry="6.95" fill="#000080"/><ellipse cx="606.8" cy="2294.5" rx="8.05" ry="6.95" fill="#000080"/><ellipse cx="605.7" cy="2298.6" rx="8.05" ry="6.95" fill="#000080"/><ellipse cx="624.5" cy="2290.3" rx="8.05" ry="6.95" fill="#000080"/><ellipse cx="630.7" cy="2293.4" rx="8.05" ry="6.95" fill="#000080"/><ellipse cx="639.5" cy="2284.0" rx="8.05" ry="6.95" fill="#000080"/><ellipse cx="652.6" cy="2293.4" rx="8.05" ry="6.95" fill="#000080"/><ellipse cx="658.8" cy="2296.5" rx="8.05" ry="6.95" fill="#000080"/><ellipse cx="656.8" cy="2300.7" rx="8.05" ry="6.95" fill="#000080"/><ellipse cx="682.8" cy="2250.7" rx="8.05" ry="6.95" fill="#000080"/><ellipse cx="681.7" cy="2297.6" rx="8.05" ry="6.95" fill="#000080"/><ellipse cx="696.3" cy="2282.0" rx="8.05" ry="6.95" fill="#000080"/><ellipse cx="696.3" cy="2293.4" rx="8.05" ry="6.95" fill="#000080"/><ellipse cx="714.0" cy="2271.5" rx="8.05" ry="6.95" fill="#000080"/><ellipse cx="724.4" cy="2274.7" rx="8.05" ry="6.95" fill="#000080"/><ellipse cx="731.7" cy="2285.1" rx="8.05" ry="6.95" fill="#000080"/><ellipse cx="724.4" cy="2290.3" rx="8.05" ry="6.95" fill="#000080"/><ellipse cx="732.8" cy="2295.5" rx="8.05" ry="6.95" fill="#000080"/><ellipse cx="748.4" cy="2287.2" rx="8.05" ry="6.95" fill="#000080"/><ellipse cx="751.5" cy="2297.6" rx="8.05" ry="6.95" fill="#000080"/><ellipse cx="759.8" cy="2290.3" rx="8.05" ry="6.95" fill="#000080"/><ellipse cx="844.1" cy="2138.3" rx="8.05" ry="6.95" fill="#000080"/><ellipse cx="832.6" cy="2149.3" rx="8.05" ry="6.95" fill="#000080"/><ellipse cx="832.4" cy="2202.4" rx="8.05" ry="6.95" fill="#000080"/><ellipse cx="844.1" cy="2202.0" rx="8.05" ry="6.95" fill="#000080"/><ellipse cx="827.1" cy="2221.5" rx="8.05" ry="6.95" fill="#000080"/><ellipse cx="845.6" cy="2220.5" rx="8.05" ry="6.95" fill="#000080"/><ellipse cx="831.7" cy="2239.3" rx="8.05" ry="6.95" fill="#000080"/><ellipse cx="827.3" cy="2258.0" rx="8.05" ry="6.95" fill="#000080"/><ellipse cx="797.3" cy="2255.9" rx="8.05" ry="6.95" fill="#000080"/><ellipse cx="808.7" cy="2275.3" rx="8.05" ry="6.95" fill="#000080"/><ellipse cx="838.4" cy="2267.4" rx="8.05" ry="6.95" fill="#000080"/><ellipse cx="839.3" cy="2273.5" rx="8.05" ry="6.95" fill="#000080"/><ellipse cx="841.7" cy="2280.0" rx="8.05" ry="6.95" fill="#000080"/><ellipse cx="920.7" cy="2223.2" rx="8.05" ry="6.95" fill="#000080"/><ellipse cx="915.9" cy="2234.1" rx="8.05" ry="6.95" fill="#000080"/><ellipse cx="907.6" cy="2246.6" rx="8.05" ry="6.95" fill="#000080"/><ellipse cx="913.0" cy="2263.2" rx="8.05" ry="6.95" fill="#000080"/><ellipse cx="931.8" cy="2265.3" rx="8.05" ry="6.95" fill="#000080"/><ellipse cx="882.2" cy="2272.6" rx="8.05" ry="6.95" fill="#000080"/><ellipse cx="787.5" cy="2280.9" rx="8.05" ry="6.95" fill="#000080"/><ellipse cx="769.8" cy="2291.3" rx="8.05" ry="6.95" fill="#000080"/><ellipse cx="754.2" cy="2296.5" rx="8.05" ry="6.95" fill="#000080"/><ellipse cx="783.3" cy="2298.6" rx="8.05" ry="6.95" fill="#000080"/><ellipse cx="791.6" cy="2294.5" rx="8.05" ry="6.95" fill="#000080"/><ellipse cx="801.0" cy="2291.3" rx="8.05" ry="6.95" fill="#000080"/><ellipse cx="807.3" cy="2294.5" rx="8.05" ry="6.95" fill="#000080"/><ellipse cx="816.6" cy="2280.9" rx="8.05" ry="6.95" fill="#000080"/><ellipse cx="822.9" cy="2283.0" rx="8.05" ry="6.95" fill="#000080"/><ellipse cx="818.7" cy="2296.5" rx="8.05" ry="6.95" fill="#000080"/><ellipse cx="830.2" cy="2300.7" rx="8.05" ry="6.95" fill="#000080"/><ellipse cx="839.5" cy="2292.4" rx="8.05" ry="6.95" fill="#000080"/><ellipse cx="843.7" cy="2296.5" rx="8.05" ry="6.95" fill="#000080"/><ellipse cx="854.1" cy="2288.2" rx="8.05" ry="6.95" fill="#000080"/><ellipse cx="854.1" cy="2299.7" rx="8.05" ry="6.95" fill="#000080"/><ellipse cx="862.4" cy="2292.4" rx="8.05" ry="6.95" fill="#000080"/><ellipse cx="865.6" cy="2298.6" rx="8.05" ry="6.95" fill="#000080"/><ellipse cx="872.8" cy="2294.5" rx="8.05" ry="6.95" fill="#000080"/><ellipse cx="881.2" cy="2286.1" rx="8.05" ry="6.95" fill="#000080"/><ellipse cx="892.6" cy="2291.3" rx="8.05" ry="6.95" fill="#000080"/><ellipse cx="902.0" cy="2298.6" rx="8.05" ry="6.95" fill="#000080"/><ellipse cx="784.2" cy="2301.7" rx="8.05" ry="6.95" fill="#000080"/><ellipse cx="790.8" cy="2296.7" rx="8.05" ry="6.95" fill="#000080"/><ellipse cx="801.7" cy="2293.3" rx="8.05" ry="6.95" fill="#000080"/><ellipse cx="806.7" cy="2296.7" rx="8.05" ry="6.95" fill="#000080"/><ellipse cx="815.0" cy="2285.0" rx="8.05" ry="6.95" fill="#000080"/><ellipse cx="821.7" cy="2283.3" rx="8.05" ry="6.95" fill="#000080"/><ellipse cx="815.8" cy="2295.0" rx="8.05" ry="6.95" fill="#000080"/><ellipse cx="820.8" cy="2297.5" rx="8.05" ry="6.95" fill="#000080"/><ellipse cx="830.0" cy="2301.7" rx="8.05" ry="6.95" fill="#000080"/><ellipse cx="833.3" cy="2283.3" rx="8.05" ry="6.95" fill="#000080"/><ellipse cx="838.3" cy="2286.7" rx="8.05" ry="6.95" fill="#000080"/><ellipse cx="842.5" cy="2293.3" rx="8.05" ry="6.95" fill="#000080"/><ellipse cx="844.2" cy="2297.5" rx="8.05" ry="6.95" fill="#000080"/><ellipse cx="853.3" cy="2290.8" rx="8.05" ry="6.95" fill="#000080"/><ellipse cx="855.0" cy="2298.3" rx="8.05" ry="6.95" fill="#000080"/><ellipse cx="860.8" cy="2292.5" rx="8.05" ry="6.95" fill="#000080"/><ellipse cx="863.3" cy="2299.2" rx="8.05" ry="6.95" fill="#000080"/><ellipse cx="868.3" cy="2295.0" rx="8.05" ry="6.95" fill="#000080"/><ellipse cx="872.5" cy="2296.7" rx="8.05" ry="6.95" fill="#000080"/><ellipse cx="880.0" cy="2289.2" rx="8.05" ry="6.95" fill="#000080"/><ellipse cx="892.5" cy="2290.0" rx="8.05" ry="6.95" fill="#000080"/><ellipse cx="898.3" cy="2299.2" rx="8.05" ry="6.95" fill="#000080"/><ellipse cx="933.2" cy="2296.5" rx="8.05" ry="6.95" fill="#000080"/><ellipse cx="937.4" cy="2283.0" rx="8.05" ry="6.95" fill="#000080"/><ellipse cx="949.9" cy="2278.8" rx="8.05" ry="6.95" fill="#000080"/><ellipse cx="944.7" cy="2291.3" rx="8.05" ry="6.95" fill="#000080"/><ellipse cx="956.1" cy="2294.5" rx="8.05" ry="6.95" fill="#000080"/><ellipse cx="966.5" cy="2296.5" rx="8.05" ry="6.95" fill="#000080"/><ellipse cx="972.8" cy="2277.8" rx="8.05" ry="6.95" fill="#000080"/><ellipse cx="978.0" cy="2292.4" rx="8.05" ry="6.95" fill="#000080"/><ellipse cx="987.4" cy="2273.6" rx="8.05" ry="6.95" fill="#000080"/><ellipse cx="1003.0" cy="2271.5" rx="8.05" ry="6.95" fill="#000080"/><ellipse cx="1022.7" cy="2279.9" rx="8.05" ry="6.95" fill="#000080"/><ellipse cx="1036.3" cy="2268.4" rx="8.05" ry="6.95" fill="#000080"/><ellipse cx="1038.4" cy="2279.9" rx="8.05" ry="6.95" fill="#000080"/><ellipse cx="1045.6" cy="2286.1" rx="8.05" ry="6.95" fill="#000080"/><ellipse cx="1037.3" cy="2299.7" rx="8.05" ry="6.95" fill="#000080"/><ellipse cx="1045.6" cy="2296.5" rx="8.05" ry="6.95" fill="#000080"/><ellipse cx="1075.4" cy="2183.5" rx="8.05" ry="6.95" fill="#000080"/><ellipse cx="1053.9" cy="2286.1" rx="8.05" ry="6.95" fill="#000080"/><ellipse cx="1069.1" cy="2299.7" rx="8.05" ry="6.95" fill="#000080"/><ellipse cx="1103.9" cy="2248.2" rx="8.05" ry="6.95" fill="#000080"/><ellipse cx="1107.5" cy="2242.4" rx="8.05" ry="6.95" fill="#000080"/><ellipse cx="1103.9" cy="2287.2" rx="8.05" ry="6.95" fill="#000080"/><ellipse cx="1100.8" cy="2297.6" rx="8.05" ry="6.95" fill="#000080"/><ellipse cx="1109.1" cy="2299.7" rx="8.05" ry="6.95" fill="#000080"/><ellipse cx="1117.4" cy="2298.6" rx="8.05" ry="6.95" fill="#000080"/><ellipse cx="1129.9" cy="2285.1" rx="8.05" ry="6.95" fill="#000080"/><ellipse cx="1138.3" cy="2280.9" rx="8.05" ry="6.95" fill="#000080"/><ellipse cx="1134.1" cy="2293.4" rx="8.05" ry="6.95" fill="#000080"/><ellipse cx="1145.6" cy="2299.7" rx="8.05" ry="6.95" fill="#000080"/><ellipse cx="1152.8" cy="2253.2" rx="8.05" ry="6.95" fill="#000080"/><ellipse cx="1163.5" cy="2265.2" rx="8.05" ry="6.95" fill="#000080"/><ellipse cx="1153.9" cy="2265.3" rx="8.05" ry="6.95" fill="#000080"/><ellipse cx="1152.8" cy="2295.5" rx="8.05" ry="6.95" fill="#000080"/><ellipse cx="1162.2" cy="2297.6" rx="8.05" ry="6.95" fill="#000080"/><ellipse cx="1173.7" cy="2294.5" rx="8.05" ry="6.95" fill="#000080"/><ellipse cx="1183.0" cy="2287.2" rx="8.05" ry="6.95" fill="#000080"/><ellipse cx="1194.5" cy="2287.2" rx="8.05" ry="6.95" fill="#000080"/><ellipse cx="1188.2" cy="2298.6" rx="8.05" ry="6.95" fill="#000080"/><ellipse cx="1207.0" cy="2291.3" rx="8.05" ry="6.95" fill="#000080"/><ellipse cx="1219.0" cy="2300.8" rx="8.05" ry="6.95" fill="#000080"/><ellipse cx="1237.2" cy="2298.6" rx="8.05" ry="6.95" fill="#000080"/><ellipse cx="1247.7" cy="2261.8" rx="8.05" ry="6.95" fill="#000080"/><ellipse cx="1243.3" cy="2270.7" rx="8.05" ry="6.95" fill="#000080"/><ellipse cx="1248.8" cy="2283.7" rx="8.05" ry="6.95" fill="#000080"/><ellipse cx="1268.8" cy="2217.1" rx="8.05" ry="6.95" fill="#000080"/><ellipse cx="1269.1" cy="2263.2" rx="8.05" ry="6.95" fill="#000080"/><ellipse cx="1284.3" cy="2258.0" rx="8.05" ry="6.95" fill="#000080"/><ellipse cx="1294.1" cy="2286.2" rx="8.05" ry="6.95" fill="#000080"/><ellipse cx="1302.5" cy="2296.7" rx="8.05" ry="6.95" fill="#000080"/><ellipse cx="710.5" cy="2294.5" rx="8.05" ry="6.95" fill="#00FF00"/><ellipse cx="710.5" cy="1977.2" rx="8.05" ry="6.95" fill="#00FF00"/><ellipse cx="742.7" cy="2293.4" rx="8.05" ry="6.95" fill="#7B24CF"/></g>
<path d="M733.10 1976.60Q735.79 1970.48 742.70 1968.10Q749.61 1970.48 752.30 1976.60Q749.61 1982.72 742.70 1985.10Q735.79 1982.72 733.10 1976.60Z" fill="#7B24CF" stroke="#222" stroke-width="1.3"/>
</g>
<text x="685.92" y="1963.10" font-size="21.60" textLength="112.37" lengthAdjust="spacingAndGlyphs" fill="#000" stroke="#000" stroke-width="0.4" style="" >rs1078107</text>
<rect x="178.3" y="1877.2" width="1128.5" height="444.29999999999995" fill="none" stroke="#555" stroke-width="1.2"/>
<text x="137.97" y="2308.49" font-size="22.50" textLength="12.51" lengthAdjust="spacingAndGlyphs" fill="#333333" stroke="#333333" stroke-width="0.4">0</text>
<text x="138.22" y="2227.99" font-size="22.50" textLength="12.51" lengthAdjust="spacingAndGlyphs" fill="#333333" stroke="#333333" stroke-width="0.4">2</text>
<text x="137.75" y="2147.49" font-size="22.50" textLength="12.51" lengthAdjust="spacingAndGlyphs" fill="#333333" stroke="#333333" stroke-width="0.4">4</text>
<text x="138.08" y="2066.99" font-size="22.50" textLength="12.51" lengthAdjust="spacingAndGlyphs" fill="#333333" stroke="#333333" stroke-width="0.4">6</text>
<text x="138.06" y="1986.49" font-size="22.50" textLength="12.51" lengthAdjust="spacingAndGlyphs" fill="#333333" stroke="#333333" stroke-width="0.4">8</text>
<text x="125.45" y="1905.99" font-size="22.50" textLength="25.03" lengthAdjust="spacingAndGlyphs" fill="#333333" stroke="#333333" stroke-width="0.4">10</text>
<path d="M163.3 2300.5H178.3M163.3 2220.0H178.3M163.3 2139.5H178.3M163.3 2059.0H178.3M163.3 1978.5H178.3M163.3 1898.0H178.3" stroke="#555" stroke-width="1.2"/>
<text x="1336.50" y="2308.66" font-size="23.00" textLength="12.79" lengthAdjust="spacingAndGlyphs" fill="#2f2fff" stroke="#2f2fff" stroke-width="0.4">0</text>
<text x="1336.24" y="2228.16" font-size="23.00" textLength="25.58" lengthAdjust="spacingAndGlyphs" fill="#2f2fff" stroke="#2f2fff" stroke-width="0.4">20</text>
<text x="1336.87" y="2147.66" font-size="23.00" textLength="25.58" lengthAdjust="spacingAndGlyphs" fill="#2f2fff" stroke="#2f2fff" stroke-width="0.4">40</text>
<text x="1336.23" y="2067.16" font-size="23.00" textLength="25.58" lengthAdjust="spacingAndGlyphs" fill="#2f2fff" stroke="#2f2fff" stroke-width="0.4">60</text>
<text x="1336.40" y="1986.66" font-size="23.00" textLength="25.58" lengthAdjust="spacingAndGlyphs" fill="#2f2fff" stroke="#2f2fff" stroke-width="0.4">80</text>
<text x="1335.65" y="1906.16" font-size="23.00" textLength="38.37" lengthAdjust="spacingAndGlyphs" fill="#2f2fff" stroke="#2f2fff" stroke-width="0.4">100</text>
<path d="M1306.8 2300.5H1321.8M1306.8 2220.0H1321.8M1306.8 2139.5H1321.8M1306.8 2059.0H1321.8M1306.8 1978.5H1321.8M1306.8 1898.0H1321.8" stroke="#2f2fff" stroke-width="1.2"/>
<text transform="translate(100.8,2099.0) rotate(-90)" font-size="24.8" fill="#333333" stroke="#333333" stroke-width="0.4" text-anchor="middle" textLength="142.9" lengthAdjust="spacingAndGlyphs">&#8722;log<tspan font-size="15.1" dy="4.2">10</tspan><tspan dy="-4.2">(p&#8722;value)</tspan></text>
<text transform="translate(1383.3,2099.4) rotate(90)" font-size="25.1" fill="#2f2fff" stroke="#2f2fff" stroke-width="0.4" text-anchor="middle" textLength="258.8" lengthAdjust="spacingAndGlyphs">Recombination rate (cM/Mb)</text>
<rect x="190.0" y="1887.5" width="95.19999999999999" height="199.19999999999982" fill="#fff" stroke="#555" stroke-width="1.2"/>
<rect x="203.0" y="1922.2" width="22.8" height="31.1" fill="#FF0000" stroke="#444" stroke-width="0.8"/>
<rect x="203.0" y="1953.3" width="22.8" height="30.3" fill="#FFA500" stroke="#444" stroke-width="0.8"/>
<rect x="203.0" y="1983.6" width="22.8" height="31.4" fill="#00FF00" stroke="#444" stroke-width="0.8"/>
<rect x="203.0" y="2015.0" width="22.8" height="30.3" fill="#87CEFA" stroke="#444" stroke-width="0.8"/>
<rect x="203.0" y="2045.3" width="22.8" height="31.6" fill="#000080" stroke="#444" stroke-width="0.8"/>
<text x="244.02" y="1959.09" font-size="16.30" textLength="27.75" lengthAdjust="spacingAndGlyphs" fill="#555" stroke="#555" stroke-width="0.4" style="" >0.8</text>
<text x="244.02" y="1989.39" font-size="16.30" textLength="27.76" lengthAdjust="spacingAndGlyphs" fill="#555" stroke="#555" stroke-width="0.4" style="" >0.6</text>
<text x="244.03" y="2020.79" font-size="16.30" textLength="27.45" lengthAdjust="spacingAndGlyphs" fill="#555" stroke="#555" stroke-width="0.4" style="" >0.4</text>
<text x="244.02" y="2051.09" font-size="16.30" textLength="27.89" lengthAdjust="spacingAndGlyphs" fill="#555" stroke="#555" stroke-width="0.4" style="" >0.2</text>
<path d="M225.8 1953.3H238.3M225.8 1983.6H238.3M225.8 2015.0H238.3M225.8 2045.3H238.3" stroke="#444" stroke-width="1.2"/>
<text x="228.46" y="1914.70" font-size="22.00" textLength="7.73" lengthAdjust="spacingAndGlyphs" fill="#555" stroke="#555" stroke-width="0.4" style="" >r</text>
<text x="236.64" y="1905.80" font-size="15.20" textLength="9.52" lengthAdjust="spacingAndGlyphs" fill="#555" stroke="#555" stroke-width="0.4" style="" >2</text>
<rect x="178.2" y="2345.6" width="1128.0" height="158.5999999999999" fill="none" stroke="#555" stroke-width="1.2"/>
<text x="208.20" y="2367.90" font-size="18.50" textLength="99.34" lengthAdjust="spacingAndGlyphs" fill="#111" stroke="#111" stroke-width="0.4" style="font-style:italic;" >LINC01314</text><path d="M204.7 2361.0H186.5M195.7 2357.7L186.5 2361.0L195.7 2364.3" stroke="#111" stroke-width="1.6" fill="none" stroke-linejoin="miter" stroke-miterlimit="8"/><path d="M178.2 2375.0H217.6" stroke="#000080" stroke-width="1.1"/><rect x="216.9" y="2371.8" width="1.2" height="6.4" fill="#000080"/><text x="457.65" y="2367.90" font-size="18.50" textLength="63.33" lengthAdjust="spacingAndGlyphs" fill="#111" stroke="#111" stroke-width="0.4" style="font-style:italic;" >ARNT2</text><path d="M523.1 2361.0H541.3M532.1 2357.7L541.3 2361.0L532.1 2364.3" stroke="#111" stroke-width="1.6" fill="none" stroke-linejoin="miter" stroke-miterlimit="8"/><path d="M389.2 2375.0H607.7" stroke="#000080" stroke-width="1.1"/><rect x="389.2" y="2371.8" width="1.2" height="6.4" fill="#000080"/><rect x="441.6" y="2371.8" width="1.2" height="6.4" fill="#000080"/><rect x="450.3" y="2371.8" width="1.2" height="6.4" fill="#000080"/><rect x="462.8" y="2371.8" width="1.2" height="6.4" fill="#000080"/><rect x="466.5" y="2371.8" width="1.5" height="6.4" fill="#000080"/><rect x="471.2" y="2371.8" width="1.2" height="6.4" fill="#000080"/><rect x="505.5" y="2371.8" width="1.5" height="6.4" fill="#000080"/><rect x="512.2" y="2371.8" width="1.2" height="6.4" fill="#000080"/><rect x="554.7" y="2371.8" width="1.2" height="6.4" fill="#000080"/><rect x="557.2" y="2371.8" width="1.2" height="6.4" fill="#000080"/><rect x="560.0" y="2371.8" width="1.2" height="6.4" fill="#000080"/><rect x="568.4" y="2371.8" width="1.2" height="6.4" fill="#000080"/><rect x="580.5" y="2371.8" width="1.2" height="6.4" fill="#000080"/><rect x="583.5" y="2371.8" width="1.2" height="6.4" fill="#000080"/><rect x="588.0" y="2371.8" width="1.2" height="6.4" fill="#000080"/><rect x="600.5" y="2371.8" width="1.2" height="6.4" fill="#000080"/><rect x="602.5" y="2371.8" width="5.2" height="6.4" fill="#000080"/><text x="697.85" y="2367.90" font-size="18.50" textLength="88.85" lengthAdjust="spacingAndGlyphs" fill="#111" stroke="#111" stroke-width="0.4" style="font-style:italic;" >ABHD17C</text><path d="M789.2 2361.0H807.4M798.2 2357.7L807.4 2361.0L798.2 2364.3" stroke="#111" stroke-width="1.6" fill="none" stroke-linejoin="miter" stroke-miterlimit="8"/><path d="M716.9 2375.0H785.7" stroke="#000080" stroke-width="1.1"/><rect x="716.9" y="2371.8" width="1.2" height="6.4" fill="#000080"/><rect x="778.5" y="2371.8" width="1.2" height="6.4" fill="#000080"/><rect x="782.5" y="2371.8" width="3.2" height="6.4" fill="#000080"/><text x="852.79" y="2367.90" font-size="18.50" textLength="82.27" lengthAdjust="spacingAndGlyphs" fill="#111" stroke="#111" stroke-width="0.4" style="font-style:italic;" >MIR549A</text><path d="M849.3 2361.0H831.1M840.3 2357.7L831.1 2361.0L840.3 2364.3" stroke="#111" stroke-width="1.6" fill="none" stroke-linejoin="miter" stroke-miterlimit="8"/><rect x="882.4" y="2371.8" width="1.2" height="6.4" fill="#000080"/><text x="1011.29" y="2367.90" font-size="18.50" textLength="81.99" lengthAdjust="spacingAndGlyphs" fill="#111" stroke="#111" stroke-width="0.4" style="font-style:italic;" >MESDC2</text><path d="M1007.8 2361.0H989.6M998.8 2357.7L989.6 2361.0L998.8 2364.3" stroke="#111" stroke-width="1.6" fill="none" stroke-linejoin="miter" stroke-miterlimit="8"/><path d="M1033.0 2375.0H1050.6" stroke="#000080" stroke-width="1.1"/><rect x="1033.0" y="2371.8" width="5.8" height="6.4" fill="#000080"/><rect x="1043.6" y="2371.8" width="1.2" height="6.4" fill="#000080"/><rect x="1049.4" y="2371.8" width="1.2" height="6.4" fill="#000080"/><text x="1171.02" y="2367.90" font-size="18.50" textLength="80.28" lengthAdjust="spacingAndGlyphs" fill="#111" stroke="#111" stroke-width="0.4" style="font-style:italic;" >C15orf26</text><path d="M1253.7 2361.0H1271.9M1262.7 2357.7L1271.9 2361.0L1262.7 2364.3" stroke="#111" stroke-width="1.6" fill="none" stroke-linejoin="miter" stroke-miterlimit="8"/><path d="M1212.0 2375.0H1229.8" stroke="#000080" stroke-width="1.1"/><rect x="1212.0" y="2371.8" width="5.5" height="6.4" fill="#000080"/><rect x="1222.0" y="2371.8" width="1.2" height="6.4" fill="#000080"/><rect x="1228.6" y="2371.8" width="1.2" height="6.4" fill="#000080"/><text x="236.01" y="2407.20" font-size="18.50" textLength="97.20" lengthAdjust="spacingAndGlyphs" fill="#111" stroke="#111" stroke-width="0.4" style="font-style:italic;" >LINC00927</text><path d="M232.5 2400.3H214.3M223.5 2397.0L214.3 2400.3L223.5 2403.6" stroke="#111" stroke-width="1.6" fill="none" stroke-linejoin="miter" stroke-miterlimit="8"/><path d="M229.2 2414.3H318.8" stroke="#000080" stroke-width="1.1"/><rect x="229.2" y="2411.1" width="3.3" height="6.4" fill="#000080"/><rect x="257.0" y="2411.1" width="1.2" height="6.4" fill="#000080"/><rect x="318.0" y="2411.1" width="1.2" height="6.4" fill="#000080"/><text x="505.00" y="2407.20" font-size="18.50" textLength="137.90" lengthAdjust="spacingAndGlyphs" fill="#111" stroke="#111" stroke-width="0.4" style="font-style:italic;" >LOC101929586</text><path d="M501.5 2400.3H483.3M492.5 2397.0L483.3 2400.3L492.5 2403.6" stroke="#111" stroke-width="1.6" fill="none" stroke-linejoin="miter" stroke-miterlimit="8"/><path d="M558.6 2414.3H569.1" stroke="#000080" stroke-width="1.1"/><rect x="558.6" y="2411.1" width="1.9" height="6.4" fill="#000080"/><rect x="562.0" y="2411.1" width="1.5" height="6.4" fill="#000080"/><rect x="565.0" y="2411.1" width="1.5" height="6.4" fill="#000080"/><rect x="568.0" y="2411.1" width="1.2" height="6.4" fill="#000080"/><text x="869.03" y="2407.20" font-size="18.50" textLength="61.29" lengthAdjust="spacingAndGlyphs" fill="#111" stroke="#111" stroke-width="0.4" style="font-style:italic;" >CEMIP</text><path d="M932.6 2400.3H950.8M941.6 2397.0L950.8 2400.3L941.6 2403.6" stroke="#111" stroke-width="1.6" fill="none" stroke-linejoin="miter" stroke-miterlimit="8"/><path d="M812.3 2414.3H1006.4" stroke="#000080" stroke-width="1.1"/><rect x="812.3" y="2411.1" width="1.2" height="6.4" fill="#000080"/><rect x="918.9" y="2411.1" width="1.2" height="6.4" fill="#000080"/><rect x="924.0" y="2411.1" width="3.0" height="6.4" fill="#000080"/><rect x="933.0" y="2411.1" width="3.5" height="6.4" fill="#000080"/><rect x="942.5" y="2411.1" width="1.2" height="6.4" fill="#000080"/><rect x="955.7" y="2411.1" width="1.2" height="6.4" fill="#000080"/><rect x="958.2" y="2411.1" width="1.2" height="6.4" fill="#000080"/><rect x="970.9" y="2411.1" width="3.0" height="6.4" fill="#000080"/><rect x="976.7" y="2411.1" width="3.1" height="6.4" fill="#000080"/><rect x="984.0" y="2411.1" width="2.5" height="6.4" fill="#000080"/><rect x="990.7" y="2411.1" width="1.2" height="6.4" fill="#000080"/><rect x="996.2" y="2411.1" width="1.2" height="6.4" fill="#000080"/><rect x="1002.0" y="2411.1" width="4.4" height="6.4" fill="#000080"/><text x="1243.23" y="2407.20" font-size="18.50" textLength="37.87" lengthAdjust="spacingAndGlyphs" fill="#111" stroke="#111" stroke-width="0.4" style="font-style:italic;" >IL16</text><path d="M1283.5 2400.3H1301.7M1292.5 2397.0L1301.7 2400.3L1292.5 2403.6" stroke="#111" stroke-width="1.6" fill="none" stroke-linejoin="miter" stroke-miterlimit="8"/><path d="M1283.1 2414.3H1306.2" stroke="#000080" stroke-width="1.1"/><rect x="1282.5" y="2411.1" width="1.2" height="6.4" fill="#000080"/><text x="538.49" y="2446.60" font-size="18.50" textLength="80.30" lengthAdjust="spacingAndGlyphs" fill="#111" stroke="#111" stroke-width="0.4" style="font-style:italic;" >MIR5572</text><path d="M620.9 2439.7H639.1M629.9 2436.4L639.1 2439.7L629.9 2443.0" stroke="#111" stroke-width="1.6" fill="none" stroke-linejoin="miter" stroke-miterlimit="8"/><rect x="588.0" y="2450.5" width="1.2" height="6.4" fill="#000080"/><text x="1029.60" y="2446.60" font-size="18.50" textLength="78.83" lengthAdjust="spacingAndGlyphs" fill="#111" stroke="#111" stroke-width="0.4" style="font-style:italic;" >MIR4514</text><path d="M1026.1 2439.7H1007.9M1017.1 2436.4L1007.9 2439.7L1017.1 2443.0" stroke="#111" stroke-width="1.6" fill="none" stroke-linejoin="miter" stroke-miterlimit="8"/><rect x="1057.8" y="2450.5" width="1.2" height="6.4" fill="#000080"/><text x="1013.39" y="2485.90" font-size="18.50" textLength="82.89" lengthAdjust="spacingAndGlyphs" fill="#111" stroke="#111" stroke-width="0.4" style="font-style:italic;" >MESDC1</text><path d="M1097.0 2479.0H1115.2M1106.0 2475.7L1115.2 2479.0L1106.0 2482.3" stroke="#111" stroke-width="1.6" fill="none" stroke-linejoin="miter" stroke-miterlimit="8"/><rect x="1062.0" y="2489.8" width="3.5" height="6.4" fill="#000080"/>
<text x="257.00" y="2549.20" font-size="22.00" textLength="45.60" lengthAdjust="spacingAndGlyphs" fill="#333333" stroke="#333333" stroke-width="0.4" style="">80.6</text>
<text x="482.70" y="2549.20" font-size="22.00" textLength="45.60" lengthAdjust="spacingAndGlyphs" fill="#333333" stroke="#333333" stroke-width="0.4" style="">80.8</text>
<text x="718.17" y="2549.20" font-size="22.00" textLength="26.06" lengthAdjust="spacingAndGlyphs" fill="#333333" stroke="#333333" stroke-width="0.4" style="">81</text>
<text x="934.10" y="2549.20" font-size="22.00" textLength="45.60" lengthAdjust="spacingAndGlyphs" fill="#333333" stroke="#333333" stroke-width="0.4" style="">81.2</text>
<text x="1159.80" y="2549.20" font-size="22.00" textLength="45.60" lengthAdjust="spacingAndGlyphs" fill="#333333" stroke="#333333" stroke-width="0.4" style="">81.4</text>
<path d="M279.8 2504.2V2518.7M505.5 2504.2V2518.7M731.2 2504.2V2518.7M956.9 2504.2V2518.7M1182.6 2504.2V2518.7" stroke="#555" stroke-width="1.2"/>
<text x="624.47" y="2579.20" font-size="22.50" textLength="236.89" lengthAdjust="spacingAndGlyphs" fill="#333333" stroke="#333333" stroke-width="0.4" style="" >Position on chr15 (Mb)</text>
<rect x="4" y="3" width="1442.9" height="2584.6" fill="none" stroke="#000" stroke-width="2.2"/>
<path d="M4 874.6H1446.9" stroke="#000" stroke-width="2.2"/>
<path d="M4 1757.4H1446.9" stroke="#000" stroke-width="2.2"/></svg>
</body></html>
